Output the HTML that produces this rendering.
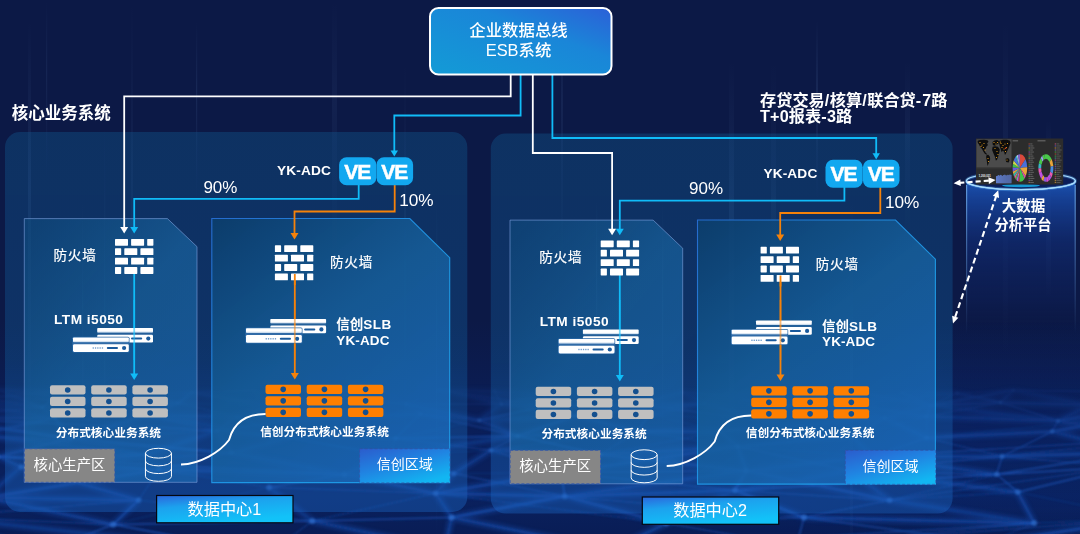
<!DOCTYPE html>
<html lang="zh-CN">
<head>
<meta charset="utf-8">
<title>企业数据总线 ESB系统 - 数据中心架构</title>
<style>
html,body{margin:0;padding:0;background:#0c1946;}
body{width:1080px;height:534px;overflow:hidden;font-family:"Liberation Sans","Noto Sans CJK SC",sans-serif;}
svg{display:block;font-family:"Liberation Sans","Noto Sans CJK SC",sans-serif;}
svg text{white-space:pre;}
</style>
</head>
<body>
<svg width="1080" height="534" viewBox="0 0 1080 534">
<defs>

<linearGradient id="bgv" x1="0" y1="0" x2="0" y2="1">
 <stop offset="0" stop-color="#0a1e58" stop-opacity="0"/>
 <stop offset="0.60" stop-color="#0a1e58" stop-opacity="0"/>
 <stop offset="0.80" stop-color="#0a1e58" stop-opacity="1"/>
 <stop offset="0.93" stop-color="#0a215e" stop-opacity="1"/>
 <stop offset="1" stop-color="#091d56" stop-opacity="1"/>
</linearGradient>
<linearGradient id="big" x1="0" y1="0" x2="0" y2="1">
 <stop offset="0" stop-color="#125d96" stop-opacity="0.36"/>
 <stop offset="0.6" stop-color="#145f9e" stop-opacity="0.37"/>
 <stop offset="0.9" stop-color="#1c64bc" stop-opacity="0.42"/>
 <stop offset="1" stop-color="#1c64c0" stop-opacity="0.42"/>
</linearGradient>
<linearGradient id="p1" x1="0" y1="0" x2="0.8" y2="1">
 <stop offset="0" stop-color="#104f82" stop-opacity="0.5"/>
 <stop offset="0.5" stop-color="#1a6aa6" stop-opacity="0.6"/>
 <stop offset="1" stop-color="#1c6cb4" stop-opacity="0.62"/>
</linearGradient>
<linearGradient id="p2" x1="0" y1="0" x2="0.7" y2="1">
 <stop offset="0" stop-color="#0c3e6c" stop-opacity="0.9"/>
 <stop offset="0.5" stop-color="#165e9a" stop-opacity="0.86"/>
 <stop offset="1" stop-color="#1b6aba" stop-opacity="0.78"/>
</linearGradient>
<linearGradient id="p2s" x1="0" y1="0" x2="0.6" y2="0.6">
 <stop offset="0" stop-color="#2a74e0"/>
 <stop offset="0.5" stop-color="#2390ee"/>
 <stop offset="1" stop-color="#20a6f2"/>
</linearGradient>
<linearGradient id="esb" x1="0" y1="1" x2="1" y2="0">
 <stop offset="0" stop-color="#139bd6"/>
 <stop offset="0.62" stop-color="#1a86d8"/>
 <stop offset="1" stop-color="#2c60d8"/>
</linearGradient>
<linearGradient id="dc" x1="0" y1="0" x2="0.45" y2="1">
 <stop offset="0" stop-color="#2b66dc"/>
 <stop offset="0.4" stop-color="#1ca2ee"/>
 <stop offset="1" stop-color="#12c2f8"/>
</linearGradient>
<linearGradient id="xc" x1="0" y1="0" x2="0.7" y2="1">
 <stop offset="0" stop-color="#2b5ccc"/>
 <stop offset="0.5" stop-color="#2084e2"/>
 <stop offset="1" stop-color="#12b6f2"/>
</linearGradient>
<linearGradient id="cyl" x1="0" y1="0" x2="0" y2="1">
 <stop offset="0" stop-color="#1c52b0"/>
 <stop offset="0.12" stop-color="#17449c" stop-opacity="0.9"/>
 <stop offset="0.4" stop-color="#12307c" stop-opacity="0.6"/>
 <stop offset="0.8" stop-color="#0f2668" stop-opacity="0.25"/>
 <stop offset="1" stop-color="#0d1b4b" stop-opacity="0"/>
</linearGradient>
<linearGradient id="cyle" x1="0" y1="0" x2="0" y2="1">
 <stop offset="0" stop-color="#7fc0ff" stop-opacity="0.7"/>
 <stop offset="1" stop-color="#7fc0ff" stop-opacity="0"/>
</linearGradient>
<linearGradient id="stk" x1="0" y1="0" x2="0" y2="1">
 <stop offset="0" stop-color="#8fc0ff" stop-opacity="0"/>
 <stop offset="0.4" stop-color="#8fc0ff" stop-opacity="1"/>
 <stop offset="1" stop-color="#8fc0ff" stop-opacity="0"/>
</linearGradient>
<linearGradient id="rgv" x1="0" y1="0" x2="0" y2="1">
 <stop offset="0.6" stop-color="#0e3a96" stop-opacity="0"/>
 <stop offset="0.78" stop-color="#0e3488" stop-opacity="0.15"/>
 <stop offset="0.95" stop-color="#0e3488" stop-opacity="0.1"/>
 <stop offset="1" stop-color="#0e3a96" stop-opacity="0"/>
</linearGradient>
<linearGradient id="rgh" x1="0" y1="0" x2="1" y2="0">
 <stop offset="0.62" stop-color="#fff" stop-opacity="0"/>
 <stop offset="0.88" stop-color="#fff" stop-opacity="1"/>
</linearGradient>
<mask id="rmask" maskUnits="userSpaceOnUse" x="0" y="0" width="1080" height="534"><rect width="1080" height="534" fill="url(#rgh)"/></mask>
<filter id="blur1" filterUnits="userSpaceOnUse" x="0" y="330" width="1080" height="204"><feGaussianBlur stdDeviation="0.8"/></filter>
<filter id="blur2" filterUnits="userSpaceOnUse" x="0" y="330" width="1080" height="204"><feGaussianBlur stdDeviation="2.2"/></filter>
<linearGradient id="nmg" x1="0" y1="0" x2="0" y2="1">
 <stop offset="0.70" stop-color="#fff" stop-opacity="0"/>
 <stop offset="0.82" stop-color="#fff" stop-opacity="0.8"/>
 <stop offset="1" stop-color="#fff" stop-opacity="1"/>
</linearGradient>
<mask id="netmask" maskUnits="userSpaceOnUse" x="0" y="0" width="1080" height="534"><rect width="1080" height="534" fill="url(#nmg)"/></mask>
<linearGradient id="strip" x1="0" y1="0" x2="0" y2="1">
 <stop offset="0" stop-color="#fff"/>
 <stop offset="0.6" stop-color="#fff"/>
 <stop offset="1" stop-color="#b9cfe6"/>
</linearGradient>

</defs>
<rect width="1080" height="534" fill="#0c1946"/>
<rect width="1080" height="534" fill="url(#bgv)"/>
<rect width="1080" height="534" fill="url(#rgv)" mask="url(#rmask)"/>
<rect x="28" y="20" width="3" height="420" fill="url(#stk)" opacity="0.09"/><rect x="46" y="0" width="1.2" height="180" fill="url(#stk)" opacity="0.07"/><rect x="82" y="200" width="1.2" height="260" fill="url(#stk)" opacity="0.05"/><rect x="104" y="120" width="1.2" height="420" fill="url(#stk)" opacity="0.05"/><rect x="131" y="0" width="2" height="420" fill="url(#stk)" opacity="0.05"/><rect x="196" y="20" width="1.2" height="180" fill="url(#stk)" opacity="0.09"/><rect x="332" y="0" width="5" height="260" fill="url(#stk)" opacity="0.05"/><rect x="404" y="60" width="2" height="420" fill="url(#stk)" opacity="0.05"/><rect x="436" y="200" width="1.2" height="340" fill="url(#stk)" opacity="0.09"/><rect x="561" y="0" width="2" height="260" fill="url(#stk)" opacity="0.07"/><rect x="596" y="200" width="1.2" height="180" fill="url(#stk)" opacity="0.09"/><rect x="662" y="200" width="1.2" height="260" fill="url(#stk)" opacity="0.07"/><rect x="729" y="60" width="5" height="420" fill="url(#stk)" opacity="0.09"/><rect x="771" y="60" width="5" height="340" fill="url(#stk)" opacity="0.05"/><rect x="816" y="20" width="2" height="180" fill="url(#stk)" opacity="0.09"/><rect x="850" y="200" width="3" height="420" fill="url(#stk)" opacity="0.07"/><rect x="905" y="60" width="5" height="180" fill="url(#stk)" opacity="0.05"/><rect x="1003" y="20" width="5" height="340" fill="url(#stk)" opacity="0.05"/><rect x="1046" y="120" width="5" height="180" fill="url(#stk)" opacity="0.09"/>
<g mask="url(#netmask)"><g filter="url(#blur2)" stroke="#1c58c0" stroke-width="6" opacity="0.4" fill="none"><path d="M-3.53 389.26L64.27 390.73"/><path d="M64.27 390.73L138.9 393.07"/><path d="M191.88 392.33L253.89 390.01"/><path d="M306.46 390.11L382.11 389.53"/><path d="M439.19 389.62L494.76 391.09"/><path d="M494.76 391.09L545.27 393.92"/><path d="M682.42 392.05L714.73 394.73"/><path d="M714.73 394.73L803.48 389.83"/><path d="M803.48 389.83L845.89 389.96"/><path d="M902.18 392.68L957.17 393.1"/><path d="M-46.23 392.93L-48.68 400.71"/><path d="M-46.23 392.93L41.87 407.27"/><path d="M-3.53 389.26L-48.68 400.71"/><path d="M-3.53 389.26L41.87 407.27"/><path d="M-3.53 389.26L128.51 405.15"/><path d="M64.27 390.73L128.51 405.15"/><path d="M138.9 393.07L178.12 403.04"/><path d="M191.88 392.33L178.12 403.04"/><path d="M191.88 392.33L268.33 405.22"/><path d="M253.89 390.01L268.33 405.22"/><path d="M382.11 389.53L319.8 402.14"/><path d="M382.11 389.53L268.33 405.22"/><path d="M439.19 389.62L501.43 404"/><path d="M439.19 389.62L544.15 406.26"/><path d="M494.76 391.09L501.43 404"/><path d="M545.27 393.92L544.15 406.26"/><path d="M545.27 393.92L501.43 404"/><path d="M592.3 389.54L501.43 404"/><path d="M682.42 392.05L704.41 403.49"/><path d="M682.42 392.05L637.26 404.13"/><path d="M714.73 394.73L704.41 403.49"/><path d="M714.73 394.73L787.48 405.9"/><path d="M803.48 389.83L787.48 405.9"/><path d="M845.89 389.96L787.48 405.9"/><path d="M845.89 389.96L930.53 405.37"/><path d="M957.17 393.1L1000.52 402.44"/><path d="M957.17 393.1L851.32 404.35"/><path d="M1013.4 390.16L1000.52 402.44"/><path d="M1013.4 390.16L1089.6 404.96"/><path d="M1013.4 390.16L930.53 405.37"/><path d="M1099.08 391.44L1089.6 404.96"/><path d="M-48.68 400.71L41.87 407.27"/><path d="M544.15 406.26L637.26 404.13"/><path d="M637.26 404.13L704.41 403.49"/><path d="M787.48 405.9L851.32 404.35"/><path d="M930.53 405.37L1000.52 402.44"/><path d="M1000.52 402.44L1089.6 404.96"/><path d="M1089.6 404.96L1153.17 403.71"/><path d="M-48.68 400.71L-72.03 417.8"/><path d="M-48.68 400.71L54.84 417.84"/><path d="M41.87 407.27L54.84 417.84"/><path d="M128.51 405.15L146.7 415.21"/><path d="M178.12 403.04L146.7 415.21"/><path d="M268.33 405.22L237.07 416.86"/><path d="M319.8 402.14L237.07 416.86"/><path d="M406.42 404.08L479.27 420.27"/><path d="M501.43 404L479.27 420.27"/><path d="M501.43 404L575.06 415.83"/><path d="M637.26 404.13L649.89 414.14"/><path d="M637.26 404.13L575.06 415.83"/><path d="M704.41 403.49L649.89 414.14"/><path d="M704.41 403.49L773.34 422.06"/><path d="M787.48 405.9L773.34 422.06"/><path d="M787.48 405.9L884.89 418.03"/><path d="M851.32 404.35L884.89 418.03"/><path d="M851.32 404.35L926.68 416.51"/><path d="M930.53 405.37L926.68 416.51"/><path d="M930.53 405.37L884.89 418.03"/><path d="M930.53 405.37L1058.02 420.79"/><path d="M1089.6 404.96L1058.02 420.79"/><path d="M1153.17 403.71L1142.39 415.73"/><path d="M1153.17 403.71L1058.02 420.79"/><path d="M-72.03 417.8L54.84 417.84"/><path d="M146.7 415.21L237.07 416.86"/><path d="M237.07 416.86L291.2 420.09"/><path d="M291.2 420.09L420.44 413.86"/><path d="M420.44 413.86L479.27 420.27"/><path d="M479.27 420.27L575.06 415.83"/><path d="M926.68 416.51L1058.02 420.79"/><path d="M1058.02 420.79L1142.39 415.73"/><path d="M-72.03 417.8L-24.43 435.24"/><path d="M-72.03 417.8L70.59 438.38"/><path d="M54.84 417.84L70.59 438.38"/><path d="M54.84 417.84L-24.43 435.24"/><path d="M146.7 415.21L70.59 438.38"/><path d="M146.7 415.21L288.32 437.66"/><path d="M237.07 416.86L216.79 430.69"/><path d="M291.2 420.09L216.79 430.69"/><path d="M479.27 420.27L517.86 435.92"/><path d="M575.06 415.83L517.86 435.92"/><path d="M575.06 415.83L637.32 431.2"/><path d="M884.89 418.03L852.03 435.9"/><path d="M884.89 418.03L926.67 437.79"/><path d="M884.89 418.03L719.94 431.6"/><path d="M1058.02 420.79L1161.03 438.7"/><path d="M1142.39 415.73L1161.03 438.7"/><path d="M1142.39 415.73L1052.12 431.46"/><path d="M216.79 430.69L288.32 437.66"/><path d="M517.86 435.92L637.32 431.2"/><path d="M637.32 431.2L719.94 431.6"/><path d="M926.67 437.79L1052.12 431.46"/><path d="M-24.43 435.24L145.51 454.92"/><path d="M70.59 438.38L-1.91 456.7"/><path d="M216.79 430.69L231.71 452.99"/><path d="M216.79 430.69L145.51 454.92"/><path d="M288.32 437.66L231.71 452.99"/><path d="M517.86 435.92L389.27 455.24"/><path d="M719.94 431.6L737.83 446.59"/><path d="M852.03 435.9L872.02 456.52"/><path d="M852.03 435.9L737.83 446.59"/><path d="M1052.12 431.46L1133.94 452.39"/><path d="M1161.03 438.7L1133.94 452.39"/><path d="M491 450.29L600.3 454.64"/><path d="M600.3 454.64L737.83 446.59"/><path d="M872.02 456.52L1002.11 456.45"/><path d="M1002.11 456.45L1133.94 452.39"/><path d="M-1.91 456.7L21.03 466.94"/><path d="M145.51 454.92L21.03 466.94"/><path d="M231.71 452.99L344.5 474.38"/><path d="M389.27 455.24L344.5 474.38"/><path d="M491 450.29L453.74 473.54"/><path d="M600.3 454.64L746.2 470.67"/><path d="M737.83 446.59L746.2 470.67"/><path d="M737.83 446.59L561.05 472.43"/><path d="M872.02 456.52L850.54 470.83"/><path d="M872.02 456.52L996.65 474.33"/><path d="M872.02 456.52L746.2 470.67"/><path d="M21.03 466.94L158.96 469.63"/><path d="M158.96 469.63L344.5 474.38"/><path d="M344.5 474.38L453.74 473.54"/><path d="M21.03 466.94L-14.15 497.63"/><path d="M21.03 466.94L138.67 500.09"/><path d="M158.96 469.63L-14.15 497.63"/><path d="M344.5 474.38L435.68 493.21"/><path d="M453.74 473.54L435.68 493.21"/><path d="M561.05 472.43L435.68 493.21"/><path d="M746.2 470.67L734.88 490.34"/><path d="M746.2 470.67L889.67 500.21"/><path d="M746.2 470.67L564.74 496.34"/><path d="M850.54 470.83L889.67 500.21"/><path d="M850.54 470.83L734.88 490.34"/><path d="M850.54 470.83L1017.74 492.04"/><path d="M-14.15 497.63L138.67 500.09"/><path d="M435.68 493.21L564.74 496.34"/><path d="M564.74 496.34L734.88 490.34"/><path d="M-14.15 497.63L113.17 524.45"/><path d="M138.67 500.09L113.17 524.45"/><path d="M269.01 487.42L312.21 521.05"/><path d="M435.68 493.21L451.58 517.46"/><path d="M564.74 496.34L666.37 523.28"/><path d="M564.74 496.34L451.58 517.46"/><path d="M734.88 490.34L666.37 523.28"/><path d="M734.88 490.34L804.02 517.38"/><path d="M889.67 500.21L1034.28 523.11"/><path d="M1017.74 492.04L1034.28 523.11"/><path d="M804.02 517.38L1034.28 523.11"/><path d="M-60.66 516.96L268.31 553.94"/><path d="M312.21 521.05L444.8 549.04"/><path d="M451.58 517.46L444.8 549.04"/><path d="M451.58 517.46L611.36 549.9"/><path d="M666.37 523.28L611.36 549.9"/><path d="M1145.86 518.59L988.47 542.76"/><path d="M52.1 548.91L268.31 553.94"/><path d="M444.8 549.04L611.36 549.9"/></g><g filter="url(#blur1)" stroke="#1e5cc4" fill="none"><path d="M-46.23 392.93L-3.53 389.26" stroke-width="1.8" opacity="0.65"/><path d="M-3.53 389.26L64.27 390.73" stroke-width="1.4" opacity="0.5"/><path d="M64.27 390.73L138.9 393.07" stroke-width="1.1" opacity="0.35"/><path d="M138.9 393.07L191.88 392.33" stroke-width="1.4" opacity="0.5"/><path d="M191.88 392.33L253.89 390.01" stroke-width="1.4" opacity="0.5"/><path d="M306.46 390.11L382.11 389.53" stroke-width="1.8" opacity="0.65"/><path d="M439.19 389.62L494.76 391.09" stroke-width="1.4" opacity="0.5"/><path d="M494.76 391.09L545.27 393.92" stroke-width="0.9" opacity="0.35"/><path d="M682.42 392.05L714.73 394.73" stroke-width="0.9" opacity="0.65"/><path d="M714.73 394.73L803.48 389.83" stroke-width="1.1" opacity="0.35"/><path d="M803.48 389.83L845.89 389.96" stroke-width="1.8" opacity="0.65"/><path d="M902.18 392.68L957.17 393.1" stroke-width="0.9" opacity="0.35"/><path d="M957.17 393.1L1013.4 390.16" stroke-width="1.1" opacity="0.5"/><path d="M1013.4 390.16L1099.08 391.44" stroke-width="1.4" opacity="0.65"/><path d="M1099.08 391.44L1145.75 392.54" stroke-width="1.1" opacity="0.35"/><path d="M-46.23 392.93L-48.68 400.71" stroke-width="0.9" opacity="0.35"/><path d="M-46.23 392.93L41.87 407.27" stroke-width="1.8" opacity="0.35"/><path d="M-46.23 392.93L128.51 405.15" stroke-width="1.1" opacity="0.65"/><path d="M-3.53 389.26L-48.68 400.71" stroke-width="0.9" opacity="0.5"/><path d="M-3.53 389.26L41.87 407.27" stroke-width="1.8" opacity="0.5"/><path d="M-3.53 389.26L128.51 405.15" stroke-width="1.8" opacity="0.35"/><path d="M64.27 390.73L41.87 407.27" stroke-width="1.8" opacity="0.65"/><path d="M64.27 390.73L128.51 405.15" stroke-width="1.8" opacity="0.65"/><path d="M64.27 390.73L-48.68 400.71" stroke-width="1.4" opacity="0.5"/><path d="M138.9 393.07L128.51 405.15" stroke-width="0.9" opacity="0.5"/><path d="M138.9 393.07L178.12 403.04" stroke-width="1.4" opacity="0.5"/><path d="M138.9 393.07L41.87 407.27" stroke-width="1.8" opacity="0.5"/><path d="M191.88 392.33L178.12 403.04" stroke-width="1.8" opacity="0.65"/><path d="M191.88 392.33L128.51 405.15" stroke-width="0.9" opacity="0.5"/><path d="M191.88 392.33L268.33 405.22" stroke-width="1.4" opacity="0.65"/><path d="M253.89 390.01L268.33 405.22" stroke-width="0.9" opacity="0.65"/><path d="M253.89 390.01L319.8 402.14" stroke-width="0.9" opacity="0.35"/><path d="M306.46 390.11L319.8 402.14" stroke-width="1.1" opacity="0.35"/><path d="M306.46 390.11L268.33 405.22" stroke-width="1.1" opacity="0.65"/><path d="M306.46 390.11L406.42 404.08" stroke-width="1.1" opacity="0.65"/><path d="M382.11 389.53L406.42 404.08" stroke-width="1.4" opacity="0.35"/><path d="M382.11 389.53L319.8 402.14" stroke-width="0.9" opacity="0.65"/><path d="M382.11 389.53L268.33 405.22" stroke-width="1.8" opacity="0.65"/><path d="M439.19 389.62L406.42 404.08" stroke-width="1.4" opacity="0.35"/><path d="M439.19 389.62L501.43 404" stroke-width="0.9" opacity="0.5"/><path d="M439.19 389.62L544.15 406.26" stroke-width="1.8" opacity="0.35"/><path d="M494.76 391.09L501.43 404" stroke-width="0.9" opacity="0.65"/><path d="M494.76 391.09L544.15 406.26" stroke-width="1.4" opacity="0.35"/><path d="M545.27 393.92L544.15 406.26" stroke-width="1.4" opacity="0.5"/><path d="M545.27 393.92L501.43 404" stroke-width="0.9" opacity="0.65"/><path d="M592.3 389.54L637.26 404.13" stroke-width="0.9" opacity="0.5"/><path d="M592.3 389.54L544.15 406.26" stroke-width="1.4" opacity="0.35"/><path d="M592.3 389.54L501.43 404" stroke-width="0.9" opacity="0.5"/><path d="M682.42 392.05L704.41 403.49" stroke-width="1.1" opacity="0.35"/><path d="M682.42 392.05L637.26 404.13" stroke-width="0.9" opacity="0.65"/><path d="M714.73 394.73L704.41 403.49" stroke-width="1.8" opacity="0.65"/><path d="M714.73 394.73L787.48 405.9" stroke-width="1.4" opacity="0.35"/><path d="M803.48 389.83L787.48 405.9" stroke-width="1.4" opacity="0.5"/><path d="M803.48 389.83L851.32 404.35" stroke-width="1.4" opacity="0.65"/><path d="M845.89 389.96L851.32 404.35" stroke-width="1.1" opacity="0.35"/><path d="M845.89 389.96L787.48 405.9" stroke-width="0.9" opacity="0.65"/><path d="M845.89 389.96L930.53 405.37" stroke-width="1.1" opacity="0.65"/><path d="M902.18 392.68L930.53 405.37" stroke-width="1.8" opacity="0.65"/><path d="M902.18 392.68L851.32 404.35" stroke-width="1.4" opacity="0.35"/><path d="M957.17 393.1L930.53 405.37" stroke-width="1.1" opacity="0.65"/><path d="M957.17 393.1L1000.52 402.44" stroke-width="1.8" opacity="0.65"/><path d="M957.17 393.1L851.32 404.35" stroke-width="1.1" opacity="0.35"/><path d="M1013.4 390.16L1000.52 402.44" stroke-width="1.8" opacity="0.35"/><path d="M1013.4 390.16L1089.6 404.96" stroke-width="0.9" opacity="0.5"/><path d="M1013.4 390.16L930.53 405.37" stroke-width="1.8" opacity="0.65"/><path d="M1099.08 391.44L1089.6 404.96" stroke-width="1.8" opacity="0.35"/><path d="M1099.08 391.44L1153.17 403.71" stroke-width="1.1" opacity="0.65"/><path d="M1145.75 392.54L1153.17 403.71" stroke-width="0.9" opacity="0.65"/><path d="M1145.75 392.54L1089.6 404.96" stroke-width="1.4" opacity="0.65"/><path d="M-48.68 400.71L41.87 407.27" stroke-width="1.1" opacity="0.35"/><path d="M128.51 405.15L178.12 403.04" stroke-width="1.8" opacity="0.65"/><path d="M178.12 403.04L268.33 405.22" stroke-width="1.1" opacity="0.35"/><path d="M268.33 405.22L319.8 402.14" stroke-width="1.8" opacity="0.65"/><path d="M319.8 402.14L406.42 404.08" stroke-width="1.1" opacity="0.35"/><path d="M406.42 404.08L501.43 404" stroke-width="1.8" opacity="0.35"/><path d="M501.43 404L544.15 406.26" stroke-width="1.1" opacity="0.65"/><path d="M544.15 406.26L637.26 404.13" stroke-width="1.4" opacity="0.5"/><path d="M637.26 404.13L704.41 403.49" stroke-width="1.1" opacity="0.65"/><path d="M704.41 403.49L787.48 405.9" stroke-width="0.9" opacity="0.5"/><path d="M787.48 405.9L851.32 404.35" stroke-width="1.8" opacity="0.65"/><path d="M930.53 405.37L1000.52 402.44" stroke-width="1.1" opacity="0.65"/><path d="M1000.52 402.44L1089.6 404.96" stroke-width="1.1" opacity="0.65"/><path d="M1089.6 404.96L1153.17 403.71" stroke-width="0.9" opacity="0.35"/><path d="M-48.68 400.71L-72.03 417.8" stroke-width="1.1" opacity="0.5"/><path d="M-48.68 400.71L54.84 417.84" stroke-width="1.1" opacity="0.35"/><path d="M41.87 407.27L54.84 417.84" stroke-width="0.9" opacity="0.65"/><path d="M41.87 407.27L146.7 415.21" stroke-width="1.4" opacity="0.35"/><path d="M41.87 407.27L-72.03 417.8" stroke-width="1.8" opacity="0.35"/><path d="M128.51 405.15L146.7 415.21" stroke-width="0.9" opacity="0.35"/><path d="M128.51 405.15L54.84 417.84" stroke-width="0.9" opacity="0.5"/><path d="M178.12 403.04L146.7 415.21" stroke-width="1.4" opacity="0.5"/><path d="M178.12 403.04L237.07 416.86" stroke-width="1.4" opacity="0.35"/><path d="M268.33 405.22L291.2 420.09" stroke-width="1.1" opacity="0.5"/><path d="M268.33 405.22L237.07 416.86" stroke-width="0.9" opacity="0.65"/><path d="M319.8 402.14L291.2 420.09" stroke-width="1.8" opacity="0.5"/><path d="M319.8 402.14L237.07 416.86" stroke-width="1.4" opacity="0.35"/><path d="M406.42 404.08L420.44 413.86" stroke-width="1.4" opacity="0.35"/><path d="M406.42 404.08L479.27 420.27" stroke-width="1.4" opacity="0.5"/><path d="M501.43 404L479.27 420.27" stroke-width="0.9" opacity="0.35"/><path d="M501.43 404L575.06 415.83" stroke-width="0.9" opacity="0.35"/><path d="M544.15 406.26L575.06 415.83" stroke-width="1.8" opacity="0.65"/><path d="M544.15 406.26L479.27 420.27" stroke-width="1.8" opacity="0.65"/><path d="M637.26 404.13L649.89 414.14" stroke-width="1.8" opacity="0.65"/><path d="M637.26 404.13L575.06 415.83" stroke-width="1.1" opacity="0.65"/><path d="M637.26 404.13L773.34 422.06" stroke-width="1.8" opacity="0.5"/><path d="M704.41 403.49L649.89 414.14" stroke-width="1.1" opacity="0.35"/><path d="M704.41 403.49L773.34 422.06" stroke-width="1.1" opacity="0.5"/><path d="M704.41 403.49L575.06 415.83" stroke-width="1.4" opacity="0.65"/><path d="M787.48 405.9L773.34 422.06" stroke-width="1.1" opacity="0.35"/><path d="M787.48 405.9L884.89 418.03" stroke-width="0.9" opacity="0.65"/><path d="M851.32 404.35L884.89 418.03" stroke-width="1.8" opacity="0.35"/><path d="M851.32 404.35L926.68 416.51" stroke-width="1.4" opacity="0.5"/><path d="M930.53 405.37L926.68 416.51" stroke-width="1.4" opacity="0.5"/><path d="M930.53 405.37L884.89 418.03" stroke-width="1.4" opacity="0.5"/><path d="M930.53 405.37L1058.02 420.79" stroke-width="1.1" opacity="0.35"/><path d="M1000.52 402.44L1058.02 420.79" stroke-width="1.1" opacity="0.65"/><path d="M1000.52 402.44L926.68 416.51" stroke-width="0.9" opacity="0.65"/><path d="M1089.6 404.96L1058.02 420.79" stroke-width="1.4" opacity="0.35"/><path d="M1089.6 404.96L1142.39 415.73" stroke-width="1.1" opacity="0.35"/><path d="M1153.17 403.71L1142.39 415.73" stroke-width="0.9" opacity="0.5"/><path d="M1153.17 403.71L1058.02 420.79" stroke-width="1.8" opacity="0.65"/><path d="M-72.03 417.8L54.84 417.84" stroke-width="0.9" opacity="0.65"/><path d="M146.7 415.21L237.07 416.86" stroke-width="1.8" opacity="0.35"/><path d="M237.07 416.86L291.2 420.09" stroke-width="1.1" opacity="0.65"/><path d="M291.2 420.09L420.44 413.86" stroke-width="1.8" opacity="0.35"/><path d="M420.44 413.86L479.27 420.27" stroke-width="1.1" opacity="0.5"/><path d="M479.27 420.27L575.06 415.83" stroke-width="0.9" opacity="0.35"/><path d="M649.89 414.14L773.34 422.06" stroke-width="0.9" opacity="0.35"/><path d="M773.34 422.06L884.89 418.03" stroke-width="1.1" opacity="0.5"/><path d="M884.89 418.03L926.68 416.51" stroke-width="1.4" opacity="0.35"/><path d="M926.68 416.51L1058.02 420.79" stroke-width="1.8" opacity="0.35"/><path d="M1058.02 420.79L1142.39 415.73" stroke-width="0.9" opacity="0.35"/><path d="M-72.03 417.8L-24.43 435.24" stroke-width="0.9" opacity="0.35"/><path d="M-72.03 417.8L70.59 438.38" stroke-width="1.8" opacity="0.65"/><path d="M-72.03 417.8L216.79 430.69" stroke-width="1.8" opacity="0.5"/><path d="M54.84 417.84L70.59 438.38" stroke-width="1.1" opacity="0.65"/><path d="M54.84 417.84L-24.43 435.24" stroke-width="1.1" opacity="0.65"/><path d="M54.84 417.84L216.79 430.69" stroke-width="0.9" opacity="0.5"/><path d="M146.7 415.21L216.79 430.69" stroke-width="1.4" opacity="0.35"/><path d="M146.7 415.21L70.59 438.38" stroke-width="1.1" opacity="0.5"/><path d="M146.7 415.21L288.32 437.66" stroke-width="0.9" opacity="0.35"/><path d="M237.07 416.86L216.79 430.69" stroke-width="1.1" opacity="0.65"/><path d="M237.07 416.86L288.32 437.66" stroke-width="1.8" opacity="0.65"/><path d="M291.2 420.09L288.32 437.66" stroke-width="1.8" opacity="0.35"/><path d="M291.2 420.09L216.79 430.69" stroke-width="1.8" opacity="0.65"/><path d="M420.44 413.86L395.53 438.35" stroke-width="1.1" opacity="0.65"/><path d="M420.44 413.86L517.86 435.92" stroke-width="1.8" opacity="0.5"/><path d="M479.27 420.27L517.86 435.92" stroke-width="1.8" opacity="0.35"/><path d="M479.27 420.27L395.53 438.35" stroke-width="0.9" opacity="0.35"/><path d="M575.06 415.83L517.86 435.92" stroke-width="1.4" opacity="0.65"/><path d="M575.06 415.83L637.32 431.2" stroke-width="1.4" opacity="0.5"/><path d="M649.89 414.14L637.32 431.2" stroke-width="1.8" opacity="0.5"/><path d="M649.89 414.14L719.94 431.6" stroke-width="0.9" opacity="0.35"/><path d="M773.34 422.06L719.94 431.6" stroke-width="0.9" opacity="0.65"/><path d="M773.34 422.06L852.03 435.9" stroke-width="0.9" opacity="0.35"/><path d="M773.34 422.06L637.32 431.2" stroke-width="0.9" opacity="0.35"/><path d="M884.89 418.03L852.03 435.9" stroke-width="0.9" opacity="0.5"/><path d="M884.89 418.03L926.67 437.79" stroke-width="0.9" opacity="0.65"/><path d="M884.89 418.03L719.94 431.6" stroke-width="1.8" opacity="0.35"/><path d="M926.68 416.51L926.67 437.79" stroke-width="0.9" opacity="0.35"/><path d="M926.68 416.51L852.03 435.9" stroke-width="0.9" opacity="0.5"/><path d="M1058.02 420.79L1052.12 431.46" stroke-width="1.4" opacity="0.5"/><path d="M1058.02 420.79L1161.03 438.7" stroke-width="1.8" opacity="0.35"/><path d="M1142.39 415.73L1161.03 438.7" stroke-width="0.9" opacity="0.35"/><path d="M1142.39 415.73L1052.12 431.46" stroke-width="1.8" opacity="0.65"/><path d="M1142.39 415.73L926.67 437.79" stroke-width="1.1" opacity="0.35"/><path d="M-24.43 435.24L70.59 438.38" stroke-width="0.9" opacity="0.35"/><path d="M70.59 438.38L216.79 430.69" stroke-width="1.1" opacity="0.5"/><path d="M216.79 430.69L288.32 437.66" stroke-width="1.8" opacity="0.5"/><path d="M288.32 437.66L395.53 438.35" stroke-width="1.8" opacity="0.65"/><path d="M395.53 438.35L517.86 435.92" stroke-width="1.8" opacity="0.65"/><path d="M517.86 435.92L637.32 431.2" stroke-width="0.9" opacity="0.65"/><path d="M637.32 431.2L719.94 431.6" stroke-width="1.4" opacity="0.5"/><path d="M926.67 437.79L1052.12 431.46" stroke-width="1.4" opacity="0.5"/><path d="M-24.43 435.24L-1.91 456.7" stroke-width="1.1" opacity="0.65"/><path d="M-24.43 435.24L145.51 454.92" stroke-width="1.1" opacity="0.35"/><path d="M-24.43 435.24L231.71 452.99" stroke-width="1.8" opacity="0.35"/><path d="M70.59 438.38L-1.91 456.7" stroke-width="1.4" opacity="0.5"/><path d="M70.59 438.38L145.51 454.92" stroke-width="0.9" opacity="0.35"/><path d="M70.59 438.38L231.71 452.99" stroke-width="1.8" opacity="0.65"/><path d="M216.79 430.69L231.71 452.99" stroke-width="0.9" opacity="0.65"/><path d="M216.79 430.69L145.51 454.92" stroke-width="0.9" opacity="0.35"/><path d="M288.32 437.66L231.71 452.99" stroke-width="1.8" opacity="0.35"/><path d="M288.32 437.66L389.27 455.24" stroke-width="1.8" opacity="0.5"/><path d="M395.53 438.35L389.27 455.24" stroke-width="0.9" opacity="0.35"/><path d="M395.53 438.35L491 450.29" stroke-width="1.4" opacity="0.5"/><path d="M517.86 435.92L491 450.29" stroke-width="1.8" opacity="0.35"/><path d="M517.86 435.92L600.3 454.64" stroke-width="1.8" opacity="0.65"/><path d="M517.86 435.92L389.27 455.24" stroke-width="0.9" opacity="0.35"/><path d="M637.32 431.2L600.3 454.64" stroke-width="1.1" opacity="0.5"/><path d="M637.32 431.2L737.83 446.59" stroke-width="1.1" opacity="0.35"/><path d="M637.32 431.2L491 450.29" stroke-width="1.1" opacity="0.35"/><path d="M719.94 431.6L737.83 446.59" stroke-width="1.1" opacity="0.65"/><path d="M719.94 431.6L600.3 454.64" stroke-width="1.4" opacity="0.35"/><path d="M852.03 435.9L872.02 456.52" stroke-width="0.9" opacity="0.5"/><path d="M852.03 435.9L737.83 446.59" stroke-width="1.1" opacity="0.65"/><path d="M926.67 437.79L872.02 456.52" stroke-width="1.8" opacity="0.35"/><path d="M926.67 437.79L1002.11 456.45" stroke-width="1.8" opacity="0.35"/><path d="M1052.12 431.46L1002.11 456.45" stroke-width="1.1" opacity="0.65"/><path d="M1052.12 431.46L1133.94 452.39" stroke-width="1.1" opacity="0.5"/><path d="M1161.03 438.7L1133.94 452.39" stroke-width="1.8" opacity="0.5"/><path d="M1161.03 438.7L1002.11 456.45" stroke-width="1.4" opacity="0.35"/><path d="M1161.03 438.7L872.02 456.52" stroke-width="1.1" opacity="0.65"/><path d="M-1.91 456.7L145.51 454.92" stroke-width="1.1" opacity="0.65"/><path d="M389.27 455.24L491 450.29" stroke-width="0.9" opacity="0.35"/><path d="M491 450.29L600.3 454.64" stroke-width="0.9" opacity="0.5"/><path d="M600.3 454.64L737.83 446.59" stroke-width="1.1" opacity="0.5"/><path d="M737.83 446.59L872.02 456.52" stroke-width="0.9" opacity="0.5"/><path d="M872.02 456.52L1002.11 456.45" stroke-width="1.1" opacity="0.65"/><path d="M1002.11 456.45L1133.94 452.39" stroke-width="1.8" opacity="0.5"/><path d="M-1.91 456.7L21.03 466.94" stroke-width="1.4" opacity="0.5"/><path d="M-1.91 456.7L158.96 469.63" stroke-width="1.4" opacity="0.65"/><path d="M-1.91 456.7L344.5 474.38" stroke-width="1.4" opacity="0.65"/><path d="M145.51 454.92L158.96 469.63" stroke-width="0.9" opacity="0.5"/><path d="M145.51 454.92L21.03 466.94" stroke-width="1.4" opacity="0.5"/><path d="M231.71 452.99L158.96 469.63" stroke-width="1.1" opacity="0.5"/><path d="M231.71 452.99L344.5 474.38" stroke-width="1.4" opacity="0.35"/><path d="M231.71 452.99L21.03 466.94" stroke-width="1.4" opacity="0.35"/><path d="M389.27 455.24L344.5 474.38" stroke-width="1.8" opacity="0.35"/><path d="M389.27 455.24L453.74 473.54" stroke-width="1.4" opacity="0.65"/><path d="M491 450.29L453.74 473.54" stroke-width="1.8" opacity="0.35"/><path d="M491 450.29L561.05 472.43" stroke-width="1.1" opacity="0.65"/><path d="M600.3 454.64L561.05 472.43" stroke-width="1.8" opacity="0.65"/><path d="M600.3 454.64L746.2 470.67" stroke-width="1.4" opacity="0.65"/><path d="M737.83 446.59L746.2 470.67" stroke-width="1.8" opacity="0.5"/><path d="M737.83 446.59L850.54 470.83" stroke-width="1.8" opacity="0.5"/><path d="M737.83 446.59L561.05 472.43" stroke-width="1.1" opacity="0.65"/><path d="M872.02 456.52L850.54 470.83" stroke-width="1.4" opacity="0.65"/><path d="M872.02 456.52L996.65 474.33" stroke-width="1.8" opacity="0.35"/><path d="M872.02 456.52L746.2 470.67" stroke-width="0.9" opacity="0.65"/><path d="M1002.11 456.45L996.65 474.33" stroke-width="1.8" opacity="0.5"/><path d="M1002.11 456.45L1122.39 466.84" stroke-width="1.8" opacity="0.35"/><path d="M1002.11 456.45L850.54 470.83" stroke-width="1.1" opacity="0.65"/><path d="M1133.94 452.39L1122.39 466.84" stroke-width="1.4" opacity="0.65"/><path d="M1133.94 452.39L996.65 474.33" stroke-width="1.8" opacity="0.65"/><path d="M21.03 466.94L158.96 469.63" stroke-width="0.9" opacity="0.65"/><path d="M158.96 469.63L344.5 474.38" stroke-width="1.4" opacity="0.65"/><path d="M344.5 474.38L453.74 473.54" stroke-width="1.1" opacity="0.35"/><path d="M453.74 473.54L561.05 472.43" stroke-width="0.9" opacity="0.35"/><path d="M561.05 472.43L746.2 470.67" stroke-width="1.1" opacity="0.65"/><path d="M746.2 470.67L850.54 470.83" stroke-width="0.9" opacity="0.35"/><path d="M850.54 470.83L996.65 474.33" stroke-width="1.1" opacity="0.65"/><path d="M996.65 474.33L1122.39 466.84" stroke-width="0.9" opacity="0.5"/><path d="M21.03 466.94L-14.15 497.63" stroke-width="0.9" opacity="0.5"/><path d="M21.03 466.94L138.67 500.09" stroke-width="1.1" opacity="0.65"/><path d="M158.96 469.63L138.67 500.09" stroke-width="1.4" opacity="0.35"/><path d="M158.96 469.63L269.01 487.42" stroke-width="0.9" opacity="0.5"/><path d="M158.96 469.63L-14.15 497.63" stroke-width="1.8" opacity="0.5"/><path d="M344.5 474.38L269.01 487.42" stroke-width="1.8" opacity="0.5"/><path d="M344.5 474.38L435.68 493.21" stroke-width="1.4" opacity="0.5"/><path d="M453.74 473.54L435.68 493.21" stroke-width="0.9" opacity="0.65"/><path d="M453.74 473.54L564.74 496.34" stroke-width="1.4" opacity="0.5"/><path d="M561.05 472.43L564.74 496.34" stroke-width="1.8" opacity="0.65"/><path d="M561.05 472.43L435.68 493.21" stroke-width="1.4" opacity="0.65"/><path d="M561.05 472.43L734.88 490.34" stroke-width="1.1" opacity="0.65"/><path d="M746.2 470.67L734.88 490.34" stroke-width="1.4" opacity="0.65"/><path d="M746.2 470.67L889.67 500.21" stroke-width="1.4" opacity="0.65"/><path d="M746.2 470.67L564.74 496.34" stroke-width="0.9" opacity="0.65"/><path d="M850.54 470.83L889.67 500.21" stroke-width="0.9" opacity="0.5"/><path d="M850.54 470.83L734.88 490.34" stroke-width="0.9" opacity="0.35"/><path d="M850.54 470.83L1017.74 492.04" stroke-width="1.8" opacity="0.35"/><path d="M996.65 474.33L1017.74 492.04" stroke-width="1.4" opacity="0.65"/><path d="M996.65 474.33L889.67 500.21" stroke-width="1.4" opacity="0.35"/><path d="M996.65 474.33L734.88 490.34" stroke-width="1.1" opacity="0.5"/><path d="M1122.39 466.84L1017.74 492.04" stroke-width="1.8" opacity="0.65"/><path d="M1122.39 466.84L889.67 500.21" stroke-width="0.9" opacity="0.65"/><path d="M1122.39 466.84L734.88 490.34" stroke-width="1.4" opacity="0.65"/><path d="M-14.15 497.63L138.67 500.09" stroke-width="1.4" opacity="0.5"/><path d="M269.01 487.42L435.68 493.21" stroke-width="0.9" opacity="0.65"/><path d="M435.68 493.21L564.74 496.34" stroke-width="1.4" opacity="0.65"/><path d="M564.74 496.34L734.88 490.34" stroke-width="1.4" opacity="0.65"/><path d="M734.88 490.34L889.67 500.21" stroke-width="1.4" opacity="0.5"/><path d="M889.67 500.21L1017.74 492.04" stroke-width="0.9" opacity="0.5"/><path d="M-14.15 497.63L-60.66 516.96" stroke-width="1.1" opacity="0.65"/><path d="M-14.15 497.63L113.17 524.45" stroke-width="1.4" opacity="0.5"/><path d="M138.67 500.09L113.17 524.45" stroke-width="1.4" opacity="0.65"/><path d="M138.67 500.09L312.21 521.05" stroke-width="1.4" opacity="0.35"/><path d="M138.67 500.09L-60.66 516.96" stroke-width="1.8" opacity="0.35"/><path d="M269.01 487.42L312.21 521.05" stroke-width="0.9" opacity="0.35"/><path d="M269.01 487.42L113.17 524.45" stroke-width="0.9" opacity="0.35"/><path d="M435.68 493.21L451.58 517.46" stroke-width="0.9" opacity="0.65"/><path d="M435.68 493.21L312.21 521.05" stroke-width="1.1" opacity="0.5"/><path d="M435.68 493.21L666.37 523.28" stroke-width="1.1" opacity="0.5"/><path d="M564.74 496.34L666.37 523.28" stroke-width="1.8" opacity="0.5"/><path d="M564.74 496.34L451.58 517.46" stroke-width="1.8" opacity="0.65"/><path d="M564.74 496.34L804.02 517.38" stroke-width="1.8" opacity="0.35"/><path d="M734.88 490.34L666.37 523.28" stroke-width="0.9" opacity="0.35"/><path d="M734.88 490.34L804.02 517.38" stroke-width="1.8" opacity="0.65"/><path d="M889.67 500.21L804.02 517.38" stroke-width="1.4" opacity="0.5"/><path d="M889.67 500.21L1034.28 523.11" stroke-width="1.1" opacity="0.35"/><path d="M1017.74 492.04L1034.28 523.11" stroke-width="1.4" opacity="0.5"/><path d="M1017.74 492.04L1145.86 518.59" stroke-width="0.9" opacity="0.35"/><path d="M-60.66 516.96L113.17 524.45" stroke-width="0.9" opacity="0.65"/><path d="M113.17 524.45L312.21 521.05" stroke-width="1.4" opacity="0.65"/><path d="M312.21 521.05L451.58 517.46" stroke-width="1.4" opacity="0.65"/><path d="M666.37 523.28L804.02 517.38" stroke-width="1.1" opacity="0.65"/><path d="M804.02 517.38L1034.28 523.11" stroke-width="1.1" opacity="0.65"/><path d="M1034.28 523.11L1145.86 518.59" stroke-width="0.9" opacity="0.5"/><path d="M-60.66 516.96L52.1 548.91" stroke-width="0.9" opacity="0.35"/><path d="M-60.66 516.96L268.31 553.94" stroke-width="0.9" opacity="0.35"/><path d="M113.17 524.45L52.1 548.91" stroke-width="1.8" opacity="0.5"/><path d="M113.17 524.45L268.31 553.94" stroke-width="1.8" opacity="0.65"/><path d="M312.21 521.05L268.31 553.94" stroke-width="1.4" opacity="0.35"/><path d="M312.21 521.05L444.8 549.04" stroke-width="1.4" opacity="0.35"/><path d="M451.58 517.46L444.8 549.04" stroke-width="0.9" opacity="0.65"/><path d="M451.58 517.46L611.36 549.9" stroke-width="1.1" opacity="0.65"/><path d="M666.37 523.28L611.36 549.9" stroke-width="1.4" opacity="0.5"/><path d="M666.37 523.28L796.41 546" stroke-width="1.1" opacity="0.65"/><path d="M804.02 517.38L796.41 546" stroke-width="1.8" opacity="0.5"/><path d="M804.02 517.38L988.47 542.76" stroke-width="1.8" opacity="0.5"/><path d="M1034.28 523.11L988.47 542.76" stroke-width="1.1" opacity="0.35"/><path d="M1034.28 523.11L796.41 546" stroke-width="1.8" opacity="0.35"/><path d="M1034.28 523.11L611.36 549.9" stroke-width="1.1" opacity="0.65"/><path d="M1145.86 518.59L988.47 542.76" stroke-width="1.4" opacity="0.65"/><path d="M1145.86 518.59L796.41 546" stroke-width="0.9" opacity="0.65"/><path d="M52.1 548.91L268.31 553.94" stroke-width="1.4" opacity="0.65"/><path d="M268.31 553.94L444.8 549.04" stroke-width="0.9" opacity="0.5"/><path d="M444.8 549.04L611.36 549.9" stroke-width="0.9" opacity="0.65"/><path d="M611.36 549.9L796.41 546" stroke-width="1.1" opacity="0.65"/><path d="M796.41 546L988.47 542.76" stroke-width="1.4" opacity="0.5"/></g><g filter="url(#blur1)" fill="#3a7ee0" opacity="0.55"><circle cx="-46.23" cy="392.93" r="1.5"/><circle cx="-3.53" cy="389.26" r="1.5"/><circle cx="64.27" cy="390.73" r="1.5"/><circle cx="138.9" cy="393.07" r="1.5"/><circle cx="191.88" cy="392.33" r="1.5"/><circle cx="253.89" cy="390.01" r="1.5"/><circle cx="306.46" cy="390.11" r="1.5"/><circle cx="382.11" cy="389.53" r="1.5"/><circle cx="439.19" cy="389.62" r="1.5"/><circle cx="494.76" cy="391.09" r="1.5"/><circle cx="545.27" cy="393.92" r="1.5"/><circle cx="592.3" cy="389.54" r="1.5"/><circle cx="682.42" cy="392.05" r="1.5"/><circle cx="714.73" cy="394.73" r="1.5"/><circle cx="803.48" cy="389.83" r="1.5"/><circle cx="845.89" cy="389.96" r="1.5"/><circle cx="902.18" cy="392.68" r="1.5"/><circle cx="957.17" cy="393.1" r="1.5"/><circle cx="1013.4" cy="390.16" r="1.5"/><circle cx="1099.08" cy="391.44" r="1.5"/><circle cx="1145.75" cy="392.54" r="1.5"/><circle cx="-48.68" cy="400.71" r="1.72"/><circle cx="41.87" cy="407.27" r="1.72"/><circle cx="128.51" cy="405.15" r="1.72"/><circle cx="178.12" cy="403.04" r="1.72"/><circle cx="268.33" cy="405.22" r="1.72"/><circle cx="319.8" cy="402.14" r="1.72"/><circle cx="406.42" cy="404.08" r="1.72"/><circle cx="501.43" cy="404" r="1.72"/><circle cx="544.15" cy="406.26" r="1.72"/><circle cx="637.26" cy="404.13" r="1.72"/><circle cx="704.41" cy="403.49" r="1.72"/><circle cx="787.48" cy="405.9" r="1.72"/><circle cx="851.32" cy="404.35" r="1.72"/><circle cx="930.53" cy="405.37" r="1.72"/><circle cx="1000.52" cy="402.44" r="1.72"/><circle cx="1089.6" cy="404.96" r="1.72"/><circle cx="1153.17" cy="403.71" r="1.72"/><circle cx="-72.03" cy="417.8" r="1.94"/><circle cx="54.84" cy="417.84" r="1.94"/><circle cx="146.7" cy="415.21" r="1.94"/><circle cx="237.07" cy="416.86" r="1.94"/><circle cx="291.2" cy="420.09" r="1.94"/><circle cx="420.44" cy="413.86" r="1.94"/><circle cx="479.27" cy="420.27" r="1.94"/><circle cx="575.06" cy="415.83" r="1.94"/><circle cx="649.89" cy="414.14" r="1.94"/><circle cx="773.34" cy="422.06" r="1.94"/><circle cx="884.89" cy="418.03" r="1.94"/><circle cx="926.68" cy="416.51" r="1.94"/><circle cx="1058.02" cy="420.79" r="1.94"/><circle cx="1142.39" cy="415.73" r="1.94"/><circle cx="-24.43" cy="435.24" r="2.16"/><circle cx="70.59" cy="438.38" r="2.16"/><circle cx="216.79" cy="430.69" r="2.16"/><circle cx="288.32" cy="437.66" r="2.16"/><circle cx="395.53" cy="438.35" r="2.16"/><circle cx="517.86" cy="435.92" r="2.16"/><circle cx="637.32" cy="431.2" r="2.16"/><circle cx="719.94" cy="431.6" r="2.16"/><circle cx="852.03" cy="435.9" r="2.16"/><circle cx="926.67" cy="437.79" r="2.16"/><circle cx="1052.12" cy="431.46" r="2.16"/><circle cx="1161.03" cy="438.7" r="2.16"/><circle cx="-1.91" cy="456.7" r="2.38"/><circle cx="145.51" cy="454.92" r="2.38"/><circle cx="231.71" cy="452.99" r="2.38"/><circle cx="389.27" cy="455.24" r="2.38"/><circle cx="491" cy="450.29" r="2.38"/><circle cx="600.3" cy="454.64" r="2.38"/><circle cx="737.83" cy="446.59" r="2.38"/><circle cx="872.02" cy="456.52" r="2.38"/><circle cx="1002.11" cy="456.45" r="2.38"/><circle cx="1133.94" cy="452.39" r="2.38"/><circle cx="21.03" cy="466.94" r="2.6"/><circle cx="158.96" cy="469.63" r="2.6"/><circle cx="344.5" cy="474.38" r="2.6"/><circle cx="453.74" cy="473.54" r="2.6"/><circle cx="561.05" cy="472.43" r="2.6"/><circle cx="746.2" cy="470.67" r="2.6"/><circle cx="850.54" cy="470.83" r="2.6"/><circle cx="996.65" cy="474.33" r="2.6"/><circle cx="1122.39" cy="466.84" r="2.6"/><circle cx="-14.15" cy="497.63" r="2.82"/><circle cx="138.67" cy="500.09" r="2.82"/><circle cx="269.01" cy="487.42" r="2.82"/><circle cx="435.68" cy="493.21" r="2.82"/><circle cx="564.74" cy="496.34" r="2.82"/><circle cx="734.88" cy="490.34" r="2.82"/><circle cx="889.67" cy="500.21" r="2.82"/><circle cx="1017.74" cy="492.04" r="2.82"/><circle cx="-60.66" cy="516.96" r="3.04"/><circle cx="113.17" cy="524.45" r="3.04"/><circle cx="312.21" cy="521.05" r="3.04"/><circle cx="451.58" cy="517.46" r="3.04"/><circle cx="666.37" cy="523.28" r="3.04"/><circle cx="804.02" cy="517.38" r="3.04"/><circle cx="1034.28" cy="523.11" r="3.04"/><circle cx="1145.86" cy="518.59" r="3.04"/><circle cx="52.1" cy="548.91" r="3.26"/><circle cx="268.31" cy="553.94" r="3.26"/><circle cx="444.8" cy="549.04" r="3.26"/><circle cx="611.36" cy="549.9" r="3.26"/><circle cx="796.41" cy="546" r="3.26"/><circle cx="988.47" cy="542.76" r="3.26"/></g></g>
<rect x="5" y="132" width="462.3" height="380" rx="15" fill="url(#big)"/>
<rect x="490.8" y="133.6" width="461.8" height="380" rx="15" fill="url(#big)"/>
<path d="M966.3 181V330H1075.4V181A54.5 8.6 0 0 1 966.3 181Z" fill="url(#cyl)"/>
<rect x="966" y="185" width="1.2" height="150" fill="url(#cyle)"/>
<rect x="1074.6" y="185" width="1.2" height="150" fill="url(#cyle)"/>
<ellipse cx="1020.9" cy="181" rx="54.5" ry="8.6" fill="#0b1d58"/>
<ellipse cx="1020.9" cy="181" rx="54.5" ry="8.6" fill="none" stroke="#5fb4ff" stroke-width="3.2" opacity="0.35"/>
<ellipse cx="1020.9" cy="181" rx="54.5" ry="8.6" fill="none" stroke="#a8dcff" stroke-width="1.3"/>
<ellipse cx="1021" cy="185.6" rx="19" ry="1.6" fill="#16a6e0" opacity="0.9"/>
<g>
<rect x="976" y="138.5" width="87.2" height="46" fill="#2c2c2c"/>
<rect x="976.5" y="139.3" width="35" height="28.2" fill="#4b4b4b"/>
<path d="M977.5 140.7L980 140L984 139.8L987.5 140.3L988.5 141.7L987 143.5L988 145L986.5 146.5L985.5 149L984.5 150.5L985.5 152.5L987 154L986.5 154.7L984.8 153.7L983.3 151.5L982 149L980.2 147L979 144.5L977.8 143Z" fill="#0d0d0d"/>
<path d="M986.6 154.9L988.2 154.7L989.8 156.5L990.2 159L989.2 161.5L988.2 164.5L987.6 166L987.1 163.5L986.6 159.5L986.1 157Z" fill="#0d0d0d"/>
<path d="M992.5 142L994.5 140.5L997 140.1L999 141L998.5 143.5L996.5 145L994.5 145.7L992.8 145Z" fill="#0d0d0d"/>
<path d="M992.6 146.8L995 146.3L998 146.8L999.8 149.5L999.2 153L998.2 156.5L997 160L995.8 160.5L995 157L993.3 153L992.1 150Z" fill="#0d0d0d"/>
<path d="M999.3 140.7L1003 139.7L1007 139.7L1010 140.7L1010.6 143L1009.5 145.7L1008.4 148.5L1007.2 151L1006 153.5L1005 155L1004.2 152.3L1003 150.5L1001.6 152.3L1000.8 149.5L999.8 146.5L999.2 143.5Z" fill="#0d0d0d"/>
<path d="M1005.6 158.8L1008.2 158.1L1009.6 160L1008.6 162.5L1006.1 162.1Z" fill="#0d0d0d"/>
<circle cx="980" cy="142.5" r="0.6" fill="#e8a020"/>
<circle cx="982" cy="145" r="0.6" fill="#e8a020"/>
<circle cx="983.5" cy="147.5" r="0.6" fill="#e8a020"/>
<circle cx="985" cy="150" r="0.6" fill="#e8a020"/>
<circle cx="981" cy="146.5" r="0.6" fill="#e8a020"/>
<circle cx="984" cy="143.5" r="0.6" fill="#e8a020"/>
<circle cx="988" cy="158.5" r="0.6" fill="#e8a020"/>
<circle cx="988.5" cy="161.5" r="0.6" fill="#e8a020"/>
<circle cx="994" cy="142.5" r="0.6" fill="#e8a020"/>
<circle cx="996" cy="144" r="0.6" fill="#e8a020"/>
<circle cx="997.5" cy="142.5" r="0.6" fill="#e8a020"/>
<circle cx="995" cy="148.5" r="0.6" fill="#e8a020"/>
<circle cx="997" cy="151.5" r="0.6" fill="#e8a020"/>
<circle cx="998" cy="154.5" r="0.6" fill="#e8a020"/>
<circle cx="996.5" cy="157.5" r="0.6" fill="#e8a020"/>
<circle cx="1001" cy="143.5" r="0.6" fill="#e8a020"/>
<circle cx="1003" cy="145.5" r="0.6" fill="#e8a020"/>
<circle cx="1005" cy="144" r="0.6" fill="#e8a020"/>
<circle cx="1006.5" cy="147.5" r="0.6" fill="#e8a020"/>
<circle cx="1004" cy="149" r="0.6" fill="#e8a020"/>
<circle cx="1002" cy="147.5" r="0.6" fill="#e8a020"/>
<circle cx="1007.5" cy="143.5" r="0.6" fill="#e8a020"/>
<circle cx="1005.5" cy="151.5" r="0.6" fill="#e8a020"/>
<circle cx="1007" cy="160" r="0.6" fill="#e8a020"/>
<circle cx="1000.5" cy="142" r="0.6" fill="#e8a020"/>
<circle cx="1005.6" cy="148.2" r="0.8" fill="#e0402a"/>
<rect x="996" y="176.1" width="1.05" height="7.2" fill="#5f7ccb"/>
<rect x="997.03" y="175.7" width="1.05" height="7.6" fill="#5f7ccb"/>
<rect x="998.06" y="175.1" width="1.05" height="8.2" fill="#5f7ccb"/>
<rect x="999.09" y="175.5" width="1.05" height="7.8" fill="#5f7ccb"/>
<rect x="1000.12" y="174.9" width="1.05" height="8.4" fill="#5f7ccb"/>
<rect x="1001.15" y="175.3" width="1.05" height="8" fill="#5f7ccb"/>
<rect x="1002.18" y="175.9" width="1.05" height="7.4" fill="#5f7ccb"/>
<rect x="1003.21" y="175" width="1.05" height="8.3" fill="#5f7ccb"/>
<rect x="1004.24" y="174.7" width="1.05" height="8.6" fill="#5f7ccb"/>
<rect x="1005.27" y="175.2" width="1.05" height="8.1" fill="#5f7ccb"/>
<rect x="1006.3" y="175.4" width="1.05" height="7.9" fill="#5f7ccb"/>
<rect x="1007.33" y="174.8" width="1.05" height="8.5" fill="#5f7ccb"/>
<rect x="1008.36" y="175.1" width="1.05" height="8.2" fill="#5f7ccb"/>
<rect x="1009.39" y="174.6" width="1.05" height="8.7" fill="#5f7ccb"/>
<rect x="1010.42" y="174.9" width="1.05" height="8.4" fill="#5f7ccb"/>
<text x="978.8" y="177.3" font-size="3.7" font-weight="700" fill="#f0f0f0" textLength="12" lengthAdjust="spacingAndGlyphs">1,200,021</text>
<rect x="976.5" y="168.6" width="35" height="0.5" fill="#3c3c3c"/>
<path d="M1019.9 168L1019.9 154.2A7.3 13.8 0 0 1 1025.52 159.2Z" fill="#d9493c"/><path d="M1019.9 168L1025.52 159.2A7.3 13.8 0 0 1 1027.19 167.13Z" fill="#4a70da"/><path d="M1019.9 168L1027.19 167.13A7.3 13.8 0 0 1 1025.81 176.11Z" fill="#e9a43a"/><path d="M1019.9 168L1025.81 176.11A7.3 13.8 0 0 1 1024.55 178.63Z" fill="#d84fa8"/><path d="M1019.9 168L1024.55 178.63A7.3 13.8 0 0 1 1019.44 181.77Z" fill="#41c24c"/><path d="M1019.9 168L1019.44 181.77A7.3 13.8 0 0 1 1018.08 181.37Z" fill="#d9493c"/><path d="M1019.9 168L1018.08 181.37A7.3 13.8 0 0 1 1016.38 180.09Z" fill="#b25fe0"/><path d="M1019.9 168L1016.38 180.09A7.3 13.8 0 0 1 1015.25 178.63Z" fill="#41c24c"/><path d="M1019.9 168L1015.25 178.63A7.3 13.8 0 0 1 1014.28 176.8Z" fill="#e85a8a"/><path d="M1019.9 168L1014.28 176.8A7.3 13.8 0 0 1 1013.29 173.88Z" fill="#38b8a8"/><path d="M1019.9 168L1013.29 173.88A7.3 13.8 0 0 1 1012.83 171.43Z" fill="#e9a43a"/><path d="M1019.9 168L1012.83 171.43A7.3 13.8 0 0 1 1012.61 167.13Z" fill="#6a5be0"/><path d="M1019.9 168L1012.61 167.13A7.3 13.8 0 0 1 1012.96 163.74Z" fill="#41c24c"/><path d="M1019.9 168L1012.96 163.74A7.3 13.8 0 0 1 1013.74 160.61Z" fill="#d0d84a"/><path d="M1019.9 168L1013.74 160.61A7.3 13.8 0 0 1 1015.61 156.84Z" fill="#4a70da"/><path d="M1019.9 168L1015.61 156.84A7.3 13.8 0 0 1 1016.79 155.51Z" fill="#38c0d0"/><path d="M1019.9 168L1016.79 155.51A7.3 13.8 0 0 1 1018.08 154.63Z" fill="#c8c8f0"/><path d="M1019.9 168L1018.08 154.63A7.3 13.8 0 0 1 1019.9 154.2Z" fill="#8a68e0"/>
<path d="M1045.9 168L1044.6 154.41A7.5 13.8 0 0 1 1051.54 158.91Z" fill="#49c84a"/><path d="M1045.9 168L1051.54 158.91A7.5 13.8 0 0 1 1053.32 166.04Z" fill="#e9a43a"/><path d="M1045.9 168L1053.32 166.04A7.5 13.8 0 0 1 1052.7 173.81Z" fill="#4a8be0"/><path d="M1045.9 168L1052.7 173.81A7.5 13.8 0 0 1 1051.36 177.46Z" fill="#e85ab0"/><path d="M1045.9 168L1051.36 177.46A7.5 13.8 0 0 1 1048.59 180.88Z" fill="#b04fe0"/><path d="M1045.9 168L1048.59 180.88A7.5 13.8 0 0 1 1046.25 181.79Z" fill="#d84fd0"/><path d="M1045.9 168L1046.25 181.79A7.5 13.8 0 0 1 1043.41 181.02Z" fill="#8a5be0"/><path d="M1045.9 168L1043.41 181.02A7.5 13.8 0 0 1 1041.31 178.91Z" fill="#e9a43a"/><path d="M1045.9 168L1041.31 178.91A7.5 13.8 0 0 1 1038.99 173.36Z" fill="#c050e0"/><path d="M1045.9 168L1038.99 173.36A7.5 13.8 0 0 1 1038.4 168.2Z" fill="#e85ab0"/><path d="M1045.9 168L1038.4 168.2A7.5 13.8 0 0 1 1038.91 163Z" fill="#38b8c8"/><path d="M1045.9 168L1038.91 163A7.5 13.8 0 0 1 1040.78 157.92Z" fill="#49c84a"/><path d="M1045.9 168L1040.78 157.92A7.5 13.8 0 0 1 1042.34 155.86Z" fill="#a0a0f0"/><path d="M1045.9 168L1042.34 155.86A7.5 13.8 0 0 1 1044.6 154.41Z" fill="#49c84a"/>
<ellipse cx="1045.9" cy="168" rx="4.7" ry="9.3" fill="#2c2c2c"/>
<rect x="1028.7" y="143.4" width="0.9" height="1.1" fill="#d9493c"/>
<rect x="1030.2" y="143.6" width="2.2" height="0.7" fill="#777"/>
<rect x="1054.8" y="143.4" width="0.9" height="1.1" fill="#e85a8a"/>
<rect x="1056.3" y="143.6" width="3" height="0.7" fill="#666"/>
<rect x="1028.7" y="145.42" width="0.9" height="1.1" fill="#4a70da"/>
<rect x="1030.2" y="145.62" width="3.2" height="0.7" fill="#777"/>
<rect x="1054.8" y="145.42" width="0.9" height="1.1" fill="#6a5be0"/>
<rect x="1056.3" y="145.62" width="4.8" height="0.7" fill="#666"/>
<rect x="1028.7" y="147.44" width="0.9" height="1.1" fill="#e9a43a"/>
<rect x="1030.2" y="147.64" width="4.2" height="0.7" fill="#777"/>
<rect x="1054.8" y="147.44" width="0.9" height="1.1" fill="#e9a43a"/>
<rect x="1056.3" y="147.64" width="3.6" height="0.7" fill="#666"/>
<rect x="1028.7" y="149.46" width="0.9" height="1.1" fill="#41c24c"/>
<rect x="1030.2" y="149.66" width="2.7" height="0.7" fill="#777"/>
<rect x="1054.8" y="149.46" width="0.9" height="1.1" fill="#8a68e0"/>
<rect x="1056.3" y="149.66" width="5.4" height="0.7" fill="#666"/>
<rect x="1028.7" y="151.48" width="0.9" height="1.1" fill="#b25fe0"/>
<rect x="1030.2" y="151.68" width="3.7" height="0.7" fill="#777"/>
<rect x="1054.8" y="151.48" width="0.9" height="1.1" fill="#49c84a"/>
<rect x="1056.3" y="151.68" width="4.2" height="0.7" fill="#666"/>
<rect x="1028.7" y="153.5" width="0.9" height="1.1" fill="#e85a8a"/>
<rect x="1030.2" y="153.7" width="2.2" height="0.7" fill="#777"/>
<rect x="1054.8" y="153.5" width="0.9" height="1.1" fill="#d9493c"/>
<rect x="1056.3" y="153.7" width="3" height="0.7" fill="#666"/>
<rect x="1028.7" y="155.52" width="0.9" height="1.1" fill="#38b8a8"/>
<rect x="1030.2" y="155.72" width="3.2" height="0.7" fill="#777"/>
<rect x="1054.8" y="155.52" width="0.9" height="1.1" fill="#41c24c"/>
<rect x="1056.3" y="155.72" width="4.8" height="0.7" fill="#666"/>
<rect x="1028.7" y="157.54" width="0.9" height="1.1" fill="#d0d84a"/>
<rect x="1030.2" y="157.74" width="4.2" height="0.7" fill="#777"/>
<rect x="1054.8" y="157.54" width="0.9" height="1.1" fill="#38b8a8"/>
<rect x="1056.3" y="157.74" width="3.6" height="0.7" fill="#666"/>
<rect x="1028.7" y="159.56" width="0.9" height="1.1" fill="#6a5be0"/>
<rect x="1030.2" y="159.76" width="2.7" height="0.7" fill="#777"/>
<rect x="1054.8" y="159.56" width="0.9" height="1.1" fill="#d84fa8"/>
<rect x="1056.3" y="159.76" width="5.4" height="0.7" fill="#666"/>
<rect x="1028.7" y="161.58" width="0.9" height="1.1" fill="#d84fa8"/>
<rect x="1030.2" y="161.78" width="3.7" height="0.7" fill="#777"/>
<rect x="1054.8" y="161.58" width="0.9" height="1.1" fill="#4a70da"/>
<rect x="1056.3" y="161.78" width="4.2" height="0.7" fill="#666"/>
<rect x="1028.7" y="163.6" width="0.9" height="1.1" fill="#41c24c"/>
<rect x="1030.2" y="163.8" width="2.2" height="0.7" fill="#777"/>
<rect x="1054.8" y="163.6" width="0.9" height="1.1" fill="#38c0d0"/>
<rect x="1056.3" y="163.8" width="3" height="0.7" fill="#666"/>
<rect x="1028.7" y="165.62" width="0.9" height="1.1" fill="#e9a43a"/>
<rect x="1030.2" y="165.82" width="3.2" height="0.7" fill="#777"/>
<rect x="1054.8" y="165.62" width="0.9" height="1.1" fill="#b04fe0"/>
<rect x="1056.3" y="165.82" width="4.8" height="0.7" fill="#666"/>
<rect x="1028.7" y="167.64" width="0.9" height="1.1" fill="#4a70da"/>
<rect x="1030.2" y="167.84" width="4.2" height="0.7" fill="#777"/>
<rect x="1054.8" y="167.64" width="0.9" height="1.1" fill="#4a70da"/>
<rect x="1056.3" y="167.84" width="3.6" height="0.7" fill="#666"/>
<rect x="1028.7" y="169.66" width="0.9" height="1.1" fill="#d9493c"/>
<rect x="1030.2" y="169.86" width="2.7" height="0.7" fill="#777"/>
<rect x="1054.8" y="169.66" width="0.9" height="1.1" fill="#b25fe0"/>
<rect x="1056.3" y="169.86" width="5.4" height="0.7" fill="#666"/>
<rect x="1028.7" y="171.68" width="0.9" height="1.1" fill="#8a68e0"/>
<rect x="1030.2" y="171.88" width="3.7" height="0.7" fill="#777"/>
<rect x="1054.8" y="171.68" width="0.9" height="1.1" fill="#d0d84a"/>
<rect x="1056.3" y="171.88" width="4.2" height="0.7" fill="#666"/>
<rect x="1028.7" y="173.7" width="0.9" height="1.1" fill="#38c0d0"/>
<rect x="1030.2" y="173.9" width="2.2" height="0.7" fill="#777"/>
<rect x="1054.8" y="173.7" width="0.9" height="1.1" fill="#41c24c"/>
<rect x="1056.3" y="173.9" width="3" height="0.7" fill="#666"/>
<rect x="1028.7" y="175.72" width="0.9" height="1.1" fill="#e85ab0"/>
<rect x="1030.2" y="175.92" width="3.2" height="0.7" fill="#777"/>
<rect x="1054.8" y="175.72" width="0.9" height="1.1" fill="#d9493c"/>
<rect x="1056.3" y="175.92" width="4.8" height="0.7" fill="#666"/>
<rect x="1028.7" y="177.74" width="0.9" height="1.1" fill="#49c84a"/>
<rect x="1030.2" y="177.94" width="4.2" height="0.7" fill="#777"/>
<rect x="1054.8" y="177.74" width="0.9" height="1.1" fill="#e85ab0"/>
<rect x="1056.3" y="177.94" width="3.6" height="0.7" fill="#666"/>
<rect x="1028.7" y="179.76" width="0.9" height="1.1" fill="#b04fe0"/>
<rect x="1030.2" y="179.96" width="2.7" height="0.7" fill="#777"/>
<rect x="1054.8" y="179.76" width="0.9" height="1.1" fill="#e9a43a"/>
<rect x="1056.3" y="179.96" width="5.4" height="0.7" fill="#666"/>
<rect x="1028.7" y="181.78" width="0.9" height="1.1" fill="#e9a43a"/>
<rect x="1030.2" y="181.98" width="3.7" height="0.7" fill="#777"/>
<rect x="1054.8" y="181.78" width="0.9" height="1.1" fill="#e9a43a"/>
<rect x="1056.3" y="181.98" width="4.2" height="0.7" fill="#666"/>
<rect x="1012.6" y="140.4" width="5.5" height="0.9" fill="#777"/>
<rect x="1037.5" y="140.4" width="8" height="0.9" fill="#777"/>
</g>
<path d="M966.4 181A54.5 8.6 0 0 0 1075.4 181" fill="none" stroke="#a8dcff" stroke-width="1.3"/>
<path d="M24.3 218.6H167.4L197 246.7V482.3H24.3Z" fill="url(#p1)" stroke="#7fa2e0" stroke-width="1" stroke-opacity="0.6"/>
<path d="M211.8 218.5H409.8L449.7 257.7V482.6H211.8Z" fill="url(#p2)" stroke="url(#p2s)" stroke-width="1.1" stroke-opacity="0.85"/>
<path d="M510.7 75V96.4H124.2V228" fill="none" stroke="#fff" stroke-width="1.8"/>
<path d="M120.2 227.1H128.2L124.2 233.6Z" fill="#fff"/>
<path d="M520.6 75V115.5H394.3V151" fill="none" stroke="#10bcf8" stroke-width="1.8"/>
<path d="M390.6 150.4H398L394.3 156.6Z" fill="#10bcf8"/>
<path d="M358.7 185V198.9H134.2V228" fill="none" stroke="#10bcf8" stroke-width="1.8"/>
<path d="M130.2 227.1H138.2L134.2 233.6Z" fill="#10bcf8"/>
<path d="M394.7 185V211.5H294.5V234" fill="none" stroke="#f5820a" stroke-width="1.8"/>
<path d="M290.5 232.9H298.5L294.5 239.4Z" fill="#f5820a"/>
<path d="M134.2 273.5V374.5" fill="none" stroke="#10bcf8" stroke-width="1.8"/>
<path d="M130.2 373.5H138.2L134.2 380Z" fill="#10bcf8"/>
<path d="M294.8 274.5V374" fill="none" stroke="#f5820a" stroke-width="1.8"/>
<path d="M290.8 372.9H298.8L294.8 379.4Z" fill="#f5820a"/>
<g transform="translate(115 238.9)" fill="#fff"><rect x="0" y="0" width="13" height="6.8" rx="0.6"/><rect x="16.1" y="0" width="13" height="6.8" rx="0.6"/><rect x="32.2" y="0" width="6.2" height="6.8" rx="0.6"/><rect x="0" y="9.4" width="6.2" height="6.8" rx="0.6"/><rect x="9.3" y="9.4" width="13" height="6.8" rx="0.6"/><rect x="25.4" y="9.4" width="13" height="6.8" rx="0.6"/><rect x="0" y="18.8" width="13" height="6.8" rx="0.6"/><rect x="16.1" y="18.8" width="13" height="6.8" rx="0.6"/><rect x="32.2" y="18.8" width="6.2" height="6.8" rx="0.6"/><rect x="0" y="28.2" width="6.2" height="6.8" rx="0.6"/><rect x="9.3" y="28.2" width="13" height="6.8" rx="0.6"/><rect x="25.4" y="28.2" width="13" height="6.8" rx="0.6"/></g>
<g transform="translate(274.9 245.3)" fill="#fff"><rect x="0" y="0" width="6.2" height="6.8" rx="0.6"/><rect x="9.3" y="0" width="13" height="6.8" rx="0.6"/><rect x="25.4" y="0" width="13" height="6.8" rx="0.6"/><rect x="0" y="9.4" width="13" height="6.8" rx="0.6"/><rect x="16.1" y="9.4" width="13" height="6.8" rx="0.6"/><rect x="32.2" y="9.4" width="6.2" height="6.8" rx="0.6"/><rect x="0" y="18.8" width="6.2" height="6.8" rx="0.6"/><rect x="9.3" y="18.8" width="13" height="6.8" rx="0.6"/><rect x="25.4" y="18.8" width="13" height="6.8" rx="0.6"/><rect x="0" y="28.2" width="13" height="6.8" rx="0.6"/><rect x="16.1" y="28.2" width="13" height="6.8" rx="0.6"/><rect x="32.2" y="28.2" width="6.2" height="6.8" rx="0.6"/></g>
<g transform="translate(97.2 328.1)"><rect x="0" y="0" width="55.8" height="4.7" rx="0.8" fill="url(#strip)"/><rect x="0" y="4.7" width="55.8" height="2.2" fill="#3a6ea8" opacity="0.45"/><rect x="0" y="6.7" width="55.8" height="7.7" rx="1.3" fill="#fff"/><rect x="19.6" y="9.8" width="1.3" height="1.4" fill="#6d9bcc"/><rect x="21.9" y="9.8" width="1.3" height="1.4" fill="#6d9bcc"/><rect x="24.2" y="9.8" width="1.3" height="1.4" fill="#6d9bcc"/><rect x="26.5" y="9.8" width="1.3" height="1.4" fill="#6d9bcc"/><rect x="28.8" y="9.8" width="1.3" height="1.4" fill="#6d9bcc"/><rect x="33.8" y="9.5" width="11.2" height="2" rx="1" fill="#1a5a9c"/><circle cx="51.1" cy="10.5" r="2.1" fill="#1a5a9c"/></g>
<g transform="translate(73 337.5)"><rect x="-0.7" y="-0.7" width="57.199999999999996" height="15.8" rx="1.5" fill="#2a68a6"/><rect x="0" y="0" width="55.8" height="4.7" rx="0.8" fill="url(#strip)"/><rect x="0" y="4.7" width="55.8" height="2.2" fill="#3a6ea8" opacity="0.45"/><rect x="0" y="6.7" width="55.8" height="7.7" rx="1.3" fill="#fff"/><rect x="19.6" y="9.8" width="1.3" height="1.4" fill="#6d9bcc"/><rect x="21.9" y="9.8" width="1.3" height="1.4" fill="#6d9bcc"/><rect x="24.2" y="9.8" width="1.3" height="1.4" fill="#6d9bcc"/><rect x="26.5" y="9.8" width="1.3" height="1.4" fill="#6d9bcc"/><rect x="28.8" y="9.8" width="1.3" height="1.4" fill="#6d9bcc"/><rect x="33.8" y="9.5" width="11.2" height="2" rx="1" fill="#1a5a9c"/><circle cx="51.1" cy="10.5" r="2.1" fill="#1a5a9c"/></g>
<g transform="translate(270.3 318.9)"><rect x="0" y="0" width="55.8" height="4.7" rx="0.8" fill="url(#strip)"/><rect x="0" y="4.7" width="55.8" height="2.2" fill="#3a6ea8" opacity="0.45"/><rect x="0" y="6.7" width="55.8" height="7.7" rx="1.3" fill="#fff"/><rect x="19.6" y="9.8" width="1.3" height="1.4" fill="#6d9bcc"/><rect x="21.9" y="9.8" width="1.3" height="1.4" fill="#6d9bcc"/><rect x="24.2" y="9.8" width="1.3" height="1.4" fill="#6d9bcc"/><rect x="26.5" y="9.8" width="1.3" height="1.4" fill="#6d9bcc"/><rect x="28.8" y="9.8" width="1.3" height="1.4" fill="#6d9bcc"/><rect x="33.8" y="9.5" width="11.2" height="2" rx="1" fill="#1a5a9c"/><circle cx="51.1" cy="10.5" r="2.1" fill="#1a5a9c"/></g>
<g transform="translate(246 328.3)"><rect x="-0.7" y="-0.7" width="57.199999999999996" height="15.8" rx="1.5" fill="#2a68a6"/><rect x="0" y="0" width="55.8" height="4.7" rx="0.8" fill="url(#strip)"/><rect x="0" y="4.7" width="55.8" height="2.2" fill="#3a6ea8" opacity="0.45"/><rect x="0" y="6.7" width="55.8" height="7.7" rx="1.3" fill="#fff"/><rect x="19.6" y="9.8" width="1.3" height="1.4" fill="#6d9bcc"/><rect x="21.9" y="9.8" width="1.3" height="1.4" fill="#6d9bcc"/><rect x="24.2" y="9.8" width="1.3" height="1.4" fill="#6d9bcc"/><rect x="26.5" y="9.8" width="1.3" height="1.4" fill="#6d9bcc"/><rect x="28.8" y="9.8" width="1.3" height="1.4" fill="#6d9bcc"/><rect x="33.8" y="9.5" width="11.2" height="2" rx="1" fill="#1a5a9c"/><circle cx="51.1" cy="10.5" r="2.1" fill="#1a5a9c"/></g>
<g opacity="0.55"><path d="M134.2 300V360" fill="none" stroke="#10bcf8" stroke-width="1.8"/><path d="M294.8 300V360" fill="none" stroke="#f5820a" stroke-width="1.8"/></g>
<path d="M294.8 274V285" fill="none" stroke="#f5820a" stroke-width="1.8"/>
<g transform="translate(50 385.3)"><rect x="0" y="0" width="35.5" height="9.3" rx="2" fill="#bfbfbf"/><circle cx="17.7" cy="4.65" r="2.8" fill="#14508f"/><rect x="41.2" y="0" width="35.5" height="9.3" rx="2" fill="#bfbfbf"/><circle cx="58.9" cy="4.65" r="2.8" fill="#14508f"/><rect x="82.4" y="0" width="35.5" height="9.3" rx="2" fill="#bfbfbf"/><circle cx="100.1" cy="4.65" r="2.8" fill="#14508f"/><rect x="0" y="11.5" width="35.5" height="9.3" rx="2" fill="#bfbfbf"/><circle cx="17.7" cy="16.15" r="2.8" fill="#14508f"/><rect x="41.2" y="11.5" width="35.5" height="9.3" rx="2" fill="#bfbfbf"/><circle cx="58.9" cy="16.15" r="2.8" fill="#14508f"/><rect x="82.4" y="11.5" width="35.5" height="9.3" rx="2" fill="#bfbfbf"/><circle cx="100.1" cy="16.15" r="2.8" fill="#14508f"/><rect x="0" y="23" width="35.5" height="9.3" rx="2" fill="#bfbfbf"/><circle cx="17.7" cy="27.65" r="2.8" fill="#14508f"/><rect x="41.2" y="23" width="35.5" height="9.3" rx="2" fill="#bfbfbf"/><circle cx="58.9" cy="27.65" r="2.8" fill="#14508f"/><rect x="82.4" y="23" width="35.5" height="9.3" rx="2" fill="#bfbfbf"/><circle cx="100.1" cy="27.65" r="2.8" fill="#14508f"/></g>
<g transform="translate(265.5 384.7)"><rect x="0" y="0" width="35.5" height="9.3" rx="2" fill="#ff7f00"/><circle cx="17.7" cy="4.65" r="2.8" fill="#14508f"/><rect x="41.2" y="0" width="35.5" height="9.3" rx="2" fill="#ff7f00"/><circle cx="58.9" cy="4.65" r="2.8" fill="#14508f"/><rect x="82.4" y="0" width="35.5" height="9.3" rx="2" fill="#ff7f00"/><circle cx="100.1" cy="4.65" r="2.8" fill="#14508f"/><rect x="0" y="11.5" width="35.5" height="9.3" rx="2" fill="#ff7f00"/><circle cx="17.7" cy="16.15" r="2.8" fill="#14508f"/><rect x="41.2" y="11.5" width="35.5" height="9.3" rx="2" fill="#ff7f00"/><circle cx="58.9" cy="16.15" r="2.8" fill="#14508f"/><rect x="82.4" y="11.5" width="35.5" height="9.3" rx="2" fill="#ff7f00"/><circle cx="100.1" cy="16.15" r="2.8" fill="#14508f"/><rect x="0" y="23" width="35.5" height="9.3" rx="2" fill="#ff7f00"/><circle cx="17.7" cy="27.65" r="2.8" fill="#14508f"/><rect x="41.2" y="23" width="35.5" height="9.3" rx="2" fill="#ff7f00"/><circle cx="58.9" cy="27.65" r="2.8" fill="#14508f"/><rect x="82.4" y="23" width="35.5" height="9.3" rx="2" fill="#ff7f00"/><circle cx="100.1" cy="27.65" r="2.8" fill="#14508f"/></g>
<g transform="translate(145.1 447.8)" fill="none" stroke="#fff" stroke-width="1"><ellipse cx="13.35" cy="5.4" rx="13.0" ry="4.9"/><path d="M0.35 5.4V28.6A13.0 4.9 0 0 0 26.35 28.6V5.4"/><path d="M0.35 13.13A13.0 4.9 0 0 0 26.35 13.13"/><path d="M0.35 20.87A13.0 4.9 0 0 0 26.35 20.87"/></g>
<path d="M181 464.5C200 464 220 452 229 440C232.5 427 241 414 265.5 414" fill="none" stroke="#fff" stroke-width="1.9"/>
<rect x="24.4" y="448.8" width="90.4" height="33.5" fill="#868686" stroke="#3a5aa8" stroke-opacity="0.9" stroke-width="1" stroke-dasharray="3 2"/>
<rect x="359.6" y="448.8" width="90.4" height="34" fill="url(#xc)" stroke="#3a4a9a" stroke-opacity="0.7" stroke-width="0.8" stroke-dasharray="3 2"/>
<rect x="156.6" y="495.5" width="136.4" height="27.3" fill="url(#dc)" stroke="#05070f" stroke-width="1.2"/>
<rect x="339.1" y="157.3" width="37.2" height="28" rx="7.5" fill="#12a8f0"/>
<rect x="376.5" y="157.3" width="36.6" height="28" rx="7.5" fill="#12a8f0"/>
<g fill="#fff" stroke="#fff" stroke-width="0.5"><text x="344.19" y="179.06" font-size="21" font-weight="700" textLength="27.01" lengthAdjust="spacing">VE</text></g>
<g fill="#fff" stroke="#fff" stroke-width="0.5"><text x="381.29" y="179.06" font-size="21" font-weight="700" textLength="27.01" lengthAdjust="spacing">VE</text></g>
<g fill="#fff"><text x="277" y="175.3" font-size="13.7" font-weight="700" textLength="53.87" lengthAdjust="spacing">YK-ADC</text></g>
<g fill="#fff"><text x="203.4" y="192.51" font-size="17" font-weight="400" textLength="34.02" lengthAdjust="spacing">90%</text></g>
<g fill="#fff"><text x="399.2" y="206.48" font-size="17.2" font-weight="400" textLength="34.43" lengthAdjust="spacing">10%</text></g>
<g fill="#fff" stroke="#fff" stroke-width="0.2"><text x="53.5" y="260.26" font-size="13.6" font-weight="400" textLength="42.3" lengthAdjust="spacing">防火墙</text></g>
<g fill="#fff" stroke="#fff" stroke-width="0.2"><text x="330" y="267.06" font-size="13.6" font-weight="400" textLength="42.3" lengthAdjust="spacing">防火墙</text></g>
<g fill="#fff"><text x="54" y="324.4" font-size="13.7" font-weight="700" textLength="68.94" lengthAdjust="spacing">LTM i5050</text></g>
<g fill="#fff"><text x="336.3" y="329.03" font-size="13.5" font-weight="700" stroke="none" textLength="27" lengthAdjust="spacing">信创</text><text x="363.3" y="329.03" font-size="13.5" font-weight="700" textLength="27.9" lengthAdjust="spacing">SLB</text></g>
<g fill="#fff"><text x="336.3" y="344.83" font-size="13.5" font-weight="700" textLength="53.1" lengthAdjust="spacing">YK-ADC</text></g>
<g fill="#fff"><text x="55.75" y="436.77" font-size="11.7" font-weight="700" stroke="none" textLength="105.3" lengthAdjust="spacing">分布式核心业务系统</text></g>
<g fill="#fff"><text x="260.15" y="435.87" font-size="11.7" font-weight="700" stroke="none" textLength="128.7" lengthAdjust="spacing">信创分布式核心业务系统</text></g>
<g fill="#fff"><text x="33.5" y="469.76" font-size="14.4" font-weight="400" stroke="none" textLength="72" lengthAdjust="spacing">核心生产区</text></g>
<g fill="#fff"><text x="376.8" y="469.31" font-size="14" font-weight="400" stroke="none" textLength="56" lengthAdjust="spacing">信创区域</text></g>
<g fill="#fff"><text x="187.5" y="514.71" font-size="16.2" font-weight="400" stroke="none" textLength="64.8" lengthAdjust="spacing">数据中心</text><text x="252.3" y="514.71" font-size="16.2" font-weight="400">1</text></g>
<path d="M510 220.1H653.1L682.7 248.2V483.8H510Z" fill="url(#p1)" stroke="#7fa2e0" stroke-width="1" stroke-opacity="0.6"/>
<path d="M697.5 220H895.5L935.4 259.2V484.1H697.5Z" fill="url(#p2)" stroke="url(#p2s)" stroke-width="1.1" stroke-opacity="0.85"/>
<path d="M532.8 75V153H612.1V230" fill="none" stroke="#fff" stroke-width="1.8"/>
<path d="M608.1 228.7H616.1L612.1 235.2Z" fill="#fff"/>
<path d="M552.4 75V138H876.2V154" fill="none" stroke="#10bcf8" stroke-width="1.8"/>
<path d="M872.5 153.2H879.9L876.2 159.4Z" fill="#10bcf8"/>
<path d="M844.4 186V200.6H619.8V230" fill="none" stroke="#10bcf8" stroke-width="1.8"/>
<path d="M615.8 228.7H623.8L619.8 235.2Z" fill="#10bcf8"/>
<path d="M880.3 186V213H780.2V235.5" fill="none" stroke="#f5820a" stroke-width="1.8"/>
<path d="M776.2 234.4H784.2L780.2 240.9Z" fill="#f5820a"/>
<path d="M619.8 275V376" fill="none" stroke="#10bcf8" stroke-width="1.8"/>
<path d="M615.8 375.1H623.8L619.8 381.6Z" fill="#10bcf8"/>
<path d="M780.5 276V375.5" fill="none" stroke="#f5820a" stroke-width="1.8"/>
<path d="M776.5 374.4H784.5L780.5 380.9Z" fill="#f5820a"/>
<g transform="translate(600.7 240.4)" fill="#fff"><rect x="0" y="0" width="13" height="6.8" rx="0.6"/><rect x="16.1" y="0" width="13" height="6.8" rx="0.6"/><rect x="32.2" y="0" width="6.2" height="6.8" rx="0.6"/><rect x="0" y="9.4" width="6.2" height="6.8" rx="0.6"/><rect x="9.3" y="9.4" width="13" height="6.8" rx="0.6"/><rect x="25.4" y="9.4" width="13" height="6.8" rx="0.6"/><rect x="0" y="18.8" width="13" height="6.8" rx="0.6"/><rect x="16.1" y="18.8" width="13" height="6.8" rx="0.6"/><rect x="32.2" y="18.8" width="6.2" height="6.8" rx="0.6"/><rect x="0" y="28.2" width="6.2" height="6.8" rx="0.6"/><rect x="9.3" y="28.2" width="13" height="6.8" rx="0.6"/><rect x="25.4" y="28.2" width="13" height="6.8" rx="0.6"/></g>
<g transform="translate(760.6 246.8)" fill="#fff"><rect x="0" y="0" width="6.2" height="6.8" rx="0.6"/><rect x="9.3" y="0" width="13" height="6.8" rx="0.6"/><rect x="25.4" y="0" width="13" height="6.8" rx="0.6"/><rect x="0" y="9.4" width="13" height="6.8" rx="0.6"/><rect x="16.1" y="9.4" width="13" height="6.8" rx="0.6"/><rect x="32.2" y="9.4" width="6.2" height="6.8" rx="0.6"/><rect x="0" y="18.8" width="6.2" height="6.8" rx="0.6"/><rect x="9.3" y="18.8" width="13" height="6.8" rx="0.6"/><rect x="25.4" y="18.8" width="13" height="6.8" rx="0.6"/><rect x="0" y="28.2" width="13" height="6.8" rx="0.6"/><rect x="16.1" y="28.2" width="13" height="6.8" rx="0.6"/><rect x="32.2" y="28.2" width="6.2" height="6.8" rx="0.6"/></g>
<g transform="translate(582.9 329.6)"><rect x="0" y="0" width="55.8" height="4.7" rx="0.8" fill="url(#strip)"/><rect x="0" y="4.7" width="55.8" height="2.2" fill="#3a6ea8" opacity="0.45"/><rect x="0" y="6.7" width="55.8" height="7.7" rx="1.3" fill="#fff"/><rect x="19.6" y="9.8" width="1.3" height="1.4" fill="#6d9bcc"/><rect x="21.9" y="9.8" width="1.3" height="1.4" fill="#6d9bcc"/><rect x="24.2" y="9.8" width="1.3" height="1.4" fill="#6d9bcc"/><rect x="26.5" y="9.8" width="1.3" height="1.4" fill="#6d9bcc"/><rect x="28.8" y="9.8" width="1.3" height="1.4" fill="#6d9bcc"/><rect x="33.8" y="9.5" width="11.2" height="2" rx="1" fill="#1a5a9c"/><circle cx="51.1" cy="10.5" r="2.1" fill="#1a5a9c"/></g>
<g transform="translate(558.7 339)"><rect x="-0.7" y="-0.7" width="57.199999999999996" height="15.8" rx="1.5" fill="#2a68a6"/><rect x="0" y="0" width="55.8" height="4.7" rx="0.8" fill="url(#strip)"/><rect x="0" y="4.7" width="55.8" height="2.2" fill="#3a6ea8" opacity="0.45"/><rect x="0" y="6.7" width="55.8" height="7.7" rx="1.3" fill="#fff"/><rect x="19.6" y="9.8" width="1.3" height="1.4" fill="#6d9bcc"/><rect x="21.9" y="9.8" width="1.3" height="1.4" fill="#6d9bcc"/><rect x="24.2" y="9.8" width="1.3" height="1.4" fill="#6d9bcc"/><rect x="26.5" y="9.8" width="1.3" height="1.4" fill="#6d9bcc"/><rect x="28.8" y="9.8" width="1.3" height="1.4" fill="#6d9bcc"/><rect x="33.8" y="9.5" width="11.2" height="2" rx="1" fill="#1a5a9c"/><circle cx="51.1" cy="10.5" r="2.1" fill="#1a5a9c"/></g>
<g transform="translate(756 320.4)"><rect x="0" y="0" width="55.8" height="4.7" rx="0.8" fill="url(#strip)"/><rect x="0" y="4.7" width="55.8" height="2.2" fill="#3a6ea8" opacity="0.45"/><rect x="0" y="6.7" width="55.8" height="7.7" rx="1.3" fill="#fff"/><rect x="19.6" y="9.8" width="1.3" height="1.4" fill="#6d9bcc"/><rect x="21.9" y="9.8" width="1.3" height="1.4" fill="#6d9bcc"/><rect x="24.2" y="9.8" width="1.3" height="1.4" fill="#6d9bcc"/><rect x="26.5" y="9.8" width="1.3" height="1.4" fill="#6d9bcc"/><rect x="28.8" y="9.8" width="1.3" height="1.4" fill="#6d9bcc"/><rect x="33.8" y="9.5" width="11.2" height="2" rx="1" fill="#1a5a9c"/><circle cx="51.1" cy="10.5" r="2.1" fill="#1a5a9c"/></g>
<g transform="translate(731.7 329.8)"><rect x="-0.7" y="-0.7" width="57.199999999999996" height="15.8" rx="1.5" fill="#2a68a6"/><rect x="0" y="0" width="55.8" height="4.7" rx="0.8" fill="url(#strip)"/><rect x="0" y="4.7" width="55.8" height="2.2" fill="#3a6ea8" opacity="0.45"/><rect x="0" y="6.7" width="55.8" height="7.7" rx="1.3" fill="#fff"/><rect x="19.6" y="9.8" width="1.3" height="1.4" fill="#6d9bcc"/><rect x="21.9" y="9.8" width="1.3" height="1.4" fill="#6d9bcc"/><rect x="24.2" y="9.8" width="1.3" height="1.4" fill="#6d9bcc"/><rect x="26.5" y="9.8" width="1.3" height="1.4" fill="#6d9bcc"/><rect x="28.8" y="9.8" width="1.3" height="1.4" fill="#6d9bcc"/><rect x="33.8" y="9.5" width="11.2" height="2" rx="1" fill="#1a5a9c"/><circle cx="51.1" cy="10.5" r="2.1" fill="#1a5a9c"/></g>
<g opacity="0.55"><path d="M619.8 300V360" fill="none" stroke="#10bcf8" stroke-width="1.8"/><path d="M780.5 300V360" fill="none" stroke="#f5820a" stroke-width="1.8"/></g>
<path d="M780.5 275.5V286.5" fill="none" stroke="#f5820a" stroke-width="1.8"/>
<g transform="translate(535.7 386.8)"><rect x="0" y="0" width="35.5" height="9.3" rx="2" fill="#bfbfbf"/><circle cx="17.7" cy="4.65" r="2.8" fill="#14508f"/><rect x="41.2" y="0" width="35.5" height="9.3" rx="2" fill="#bfbfbf"/><circle cx="58.9" cy="4.65" r="2.8" fill="#14508f"/><rect x="82.4" y="0" width="35.5" height="9.3" rx="2" fill="#bfbfbf"/><circle cx="100.1" cy="4.65" r="2.8" fill="#14508f"/><rect x="0" y="11.5" width="35.5" height="9.3" rx="2" fill="#bfbfbf"/><circle cx="17.7" cy="16.15" r="2.8" fill="#14508f"/><rect x="41.2" y="11.5" width="35.5" height="9.3" rx="2" fill="#bfbfbf"/><circle cx="58.9" cy="16.15" r="2.8" fill="#14508f"/><rect x="82.4" y="11.5" width="35.5" height="9.3" rx="2" fill="#bfbfbf"/><circle cx="100.1" cy="16.15" r="2.8" fill="#14508f"/><rect x="0" y="23" width="35.5" height="9.3" rx="2" fill="#bfbfbf"/><circle cx="17.7" cy="27.65" r="2.8" fill="#14508f"/><rect x="41.2" y="23" width="35.5" height="9.3" rx="2" fill="#bfbfbf"/><circle cx="58.9" cy="27.65" r="2.8" fill="#14508f"/><rect x="82.4" y="23" width="35.5" height="9.3" rx="2" fill="#bfbfbf"/><circle cx="100.1" cy="27.65" r="2.8" fill="#14508f"/></g>
<g transform="translate(751.2 386.2)"><rect x="0" y="0" width="35.5" height="9.3" rx="2" fill="#ff7f00"/><circle cx="17.7" cy="4.65" r="2.8" fill="#14508f"/><rect x="41.2" y="0" width="35.5" height="9.3" rx="2" fill="#ff7f00"/><circle cx="58.9" cy="4.65" r="2.8" fill="#14508f"/><rect x="82.4" y="0" width="35.5" height="9.3" rx="2" fill="#ff7f00"/><circle cx="100.1" cy="4.65" r="2.8" fill="#14508f"/><rect x="0" y="11.5" width="35.5" height="9.3" rx="2" fill="#ff7f00"/><circle cx="17.7" cy="16.15" r="2.8" fill="#14508f"/><rect x="41.2" y="11.5" width="35.5" height="9.3" rx="2" fill="#ff7f00"/><circle cx="58.9" cy="16.15" r="2.8" fill="#14508f"/><rect x="82.4" y="11.5" width="35.5" height="9.3" rx="2" fill="#ff7f00"/><circle cx="100.1" cy="16.15" r="2.8" fill="#14508f"/><rect x="0" y="23" width="35.5" height="9.3" rx="2" fill="#ff7f00"/><circle cx="17.7" cy="27.65" r="2.8" fill="#14508f"/><rect x="41.2" y="23" width="35.5" height="9.3" rx="2" fill="#ff7f00"/><circle cx="58.9" cy="27.65" r="2.8" fill="#14508f"/><rect x="82.4" y="23" width="35.5" height="9.3" rx="2" fill="#ff7f00"/><circle cx="100.1" cy="27.65" r="2.8" fill="#14508f"/></g>
<g transform="translate(630.8 449.3)" fill="none" stroke="#fff" stroke-width="1"><ellipse cx="13.35" cy="5.4" rx="13.0" ry="4.9"/><path d="M0.35 5.4V28.6A13.0 4.9 0 0 0 26.35 28.6V5.4"/><path d="M0.35 13.13A13.0 4.9 0 0 0 26.35 13.13"/><path d="M0.35 20.87A13.0 4.9 0 0 0 26.35 20.87"/></g>
<path d="M666.7 466C685.7 465.5 705.7 453.5 714.7 441.5C718.2 428.5 726.7 415.5 751.2 415.5" fill="none" stroke="#fff" stroke-width="1.9"/>
<rect x="510.1" y="450.3" width="90.4" height="33.5" fill="#868686" stroke="#3a5aa8" stroke-opacity="0.9" stroke-width="1" stroke-dasharray="3 2"/>
<rect x="845.3" y="450.3" width="90.4" height="34" fill="url(#xc)" stroke="#3a4a9a" stroke-opacity="0.7" stroke-width="0.8" stroke-dasharray="3 2"/>
<rect x="642.3" y="497" width="136.4" height="27.3" fill="url(#dc)" stroke="#05070f" stroke-width="1.2"/>
<rect x="825.5" y="159.7" width="37.2" height="28" rx="7.5" fill="#12a8f0"/>
<rect x="862.9" y="159.7" width="36.6" height="28" rx="7.5" fill="#12a8f0"/>
<g fill="#fff" stroke="#fff" stroke-width="0.5"><text x="830.59" y="181.47" font-size="21" font-weight="700" textLength="27.01" lengthAdjust="spacing">VE</text></g>
<g fill="#fff" stroke="#fff" stroke-width="0.5"><text x="867.69" y="181.47" font-size="21" font-weight="700" textLength="27.01" lengthAdjust="spacing">VE</text></g>
<g fill="#fff"><text x="763.4" y="177.7" font-size="13.7" font-weight="700" textLength="53.87" lengthAdjust="spacing">YK-ADC</text></g>
<g fill="#fff"><text x="689.1" y="194.01" font-size="17" font-weight="400" textLength="34.02" lengthAdjust="spacing">90%</text></g>
<g fill="#fff"><text x="884.9" y="207.98" font-size="17.2" font-weight="400" textLength="34.43" lengthAdjust="spacing">10%</text></g>
<g fill="#fff" stroke="#fff" stroke-width="0.2"><text x="539.2" y="261.76" font-size="13.6" font-weight="400" textLength="42.3" lengthAdjust="spacing">防火墙</text></g>
<g fill="#fff" stroke="#fff" stroke-width="0.2"><text x="815.7" y="268.56" font-size="13.6" font-weight="400" textLength="42.3" lengthAdjust="spacing">防火墙</text></g>
<g fill="#fff"><text x="539.7" y="325.9" font-size="13.7" font-weight="700" textLength="68.94" lengthAdjust="spacing">LTM i5050</text></g>
<g fill="#fff"><text x="822" y="330.53" font-size="13.5" font-weight="700" stroke="none" textLength="27" lengthAdjust="spacing">信创</text><text x="849" y="330.53" font-size="13.5" font-weight="700" textLength="27.9" lengthAdjust="spacing">SLB</text></g>
<g fill="#fff"><text x="822" y="346.33" font-size="13.5" font-weight="700" textLength="53.1" lengthAdjust="spacing">YK-ADC</text></g>
<g fill="#fff"><text x="541.45" y="438.27" font-size="11.7" font-weight="700" stroke="none" textLength="105.3" lengthAdjust="spacing">分布式核心业务系统</text></g>
<g fill="#fff"><text x="745.85" y="437.37" font-size="11.7" font-weight="700" stroke="none" textLength="128.7" lengthAdjust="spacing">信创分布式核心业务系统</text></g>
<g fill="#fff"><text x="519.2" y="471.26" font-size="14.4" font-weight="400" stroke="none" textLength="72" lengthAdjust="spacing">核心生产区</text></g>
<g fill="#fff"><text x="862.5" y="470.81" font-size="14" font-weight="400" stroke="none" textLength="56" lengthAdjust="spacing">信创区域</text></g>
<g fill="#fff"><text x="673.2" y="516.21" font-size="16.2" font-weight="400" stroke="none" textLength="64.8" lengthAdjust="spacing">数据中心</text><text x="738" y="516.21" font-size="16.2" font-weight="400">2</text></g>
<rect x="430" y="8" width="181.5" height="66.5" rx="8.5" fill="url(#esb)" stroke="#fff" stroke-width="2"/>
<g fill="#fff"><text x="469.3" y="35.79" font-size="16.4" font-weight="500" stroke="none" textLength="98.4" lengthAdjust="spacing">企业数据总线</text></g>
<g fill="#fff"><text x="485.69" y="55.99" font-size="16.4" font-weight="400" textLength="32.82" lengthAdjust="spacing">ESB</text><text x="518.51" y="55.99" font-size="16.4" font-weight="500" stroke="none" textLength="32.8" lengthAdjust="spacing">系统</text></g>
<g fill="#fff"><text x="11.8" y="118.62" font-size="16.5" font-weight="700" stroke="none" textLength="99" lengthAdjust="spacing">核心业务系统</text></g>
<g fill="#fff"><text x="760" y="105.71" font-size="16.2" font-weight="700" stroke="none" textLength="64.8" lengthAdjust="spacing">存贷交易</text><text x="824.8" y="105.71" font-size="16.2" font-weight="700">/</text><text x="829.8" y="105.71" font-size="16.2" font-weight="700" stroke="none" textLength="32.4" lengthAdjust="spacing">核算</text><text x="862.2" y="105.71" font-size="16.2" font-weight="700">/</text><text x="867.2" y="105.71" font-size="16.2" font-weight="700" stroke="none" textLength="48.6" lengthAdjust="spacing">联合贷</text><text x="915.8" y="105.71" font-size="16.2" font-weight="700" textLength="15.4" lengthAdjust="spacing">-7</text><text x="931.21" y="105.71" font-size="16.2" font-weight="700" stroke="none" textLength="16.2" lengthAdjust="spacing">路</text></g>
<g fill="#fff"><text x="760" y="121.91" font-size="16.2" font-weight="700" textLength="28.82" lengthAdjust="spacing">T+0</text><text x="788.82" y="121.91" font-size="16.2" font-weight="700" stroke="none" textLength="32.4" lengthAdjust="spacing">报表</text><text x="821.22" y="121.91" font-size="16.2" font-weight="700" textLength="14.7" lengthAdjust="spacing">-3</text><text x="835.92" y="121.91" font-size="16.2" font-weight="700" stroke="none" textLength="16.2" lengthAdjust="spacing">路</text></g>
<g fill="#fff"><text x="1001.75" y="210.69" font-size="14.5" font-weight="700" stroke="none" textLength="43.5" lengthAdjust="spacing">大数据</text></g>
<g fill="#fff"><text x="994.4" y="230.42" font-size="14.3" font-weight="700" stroke="none" textLength="57.2" lengthAdjust="spacing">分析平台</text></g>
<path d="M959.18 182.87L990.02 180.53" stroke="#fff" stroke-width="2.1" stroke-dasharray="5.2 3" fill="none"/><path d="M995.6 180.1L988.87 183.92L988.37 177.34Z" fill="#fff"/><path d="M953.6 183.3L960.83 186.06L960.33 179.48Z" fill="#fff"/>
<path d="M996.4 195.5L954.8 318.1" stroke="#fff" stroke-width="2.1" stroke-dasharray="6 3.4" fill="none"/><path d="M953 323.4L952.12 315.71L958.37 317.83Z" fill="#fff"/><path d="M998.2 190.2L992.83 195.77L999.08 197.89Z" fill="#fff"/>
</svg>
</body>
</html>
